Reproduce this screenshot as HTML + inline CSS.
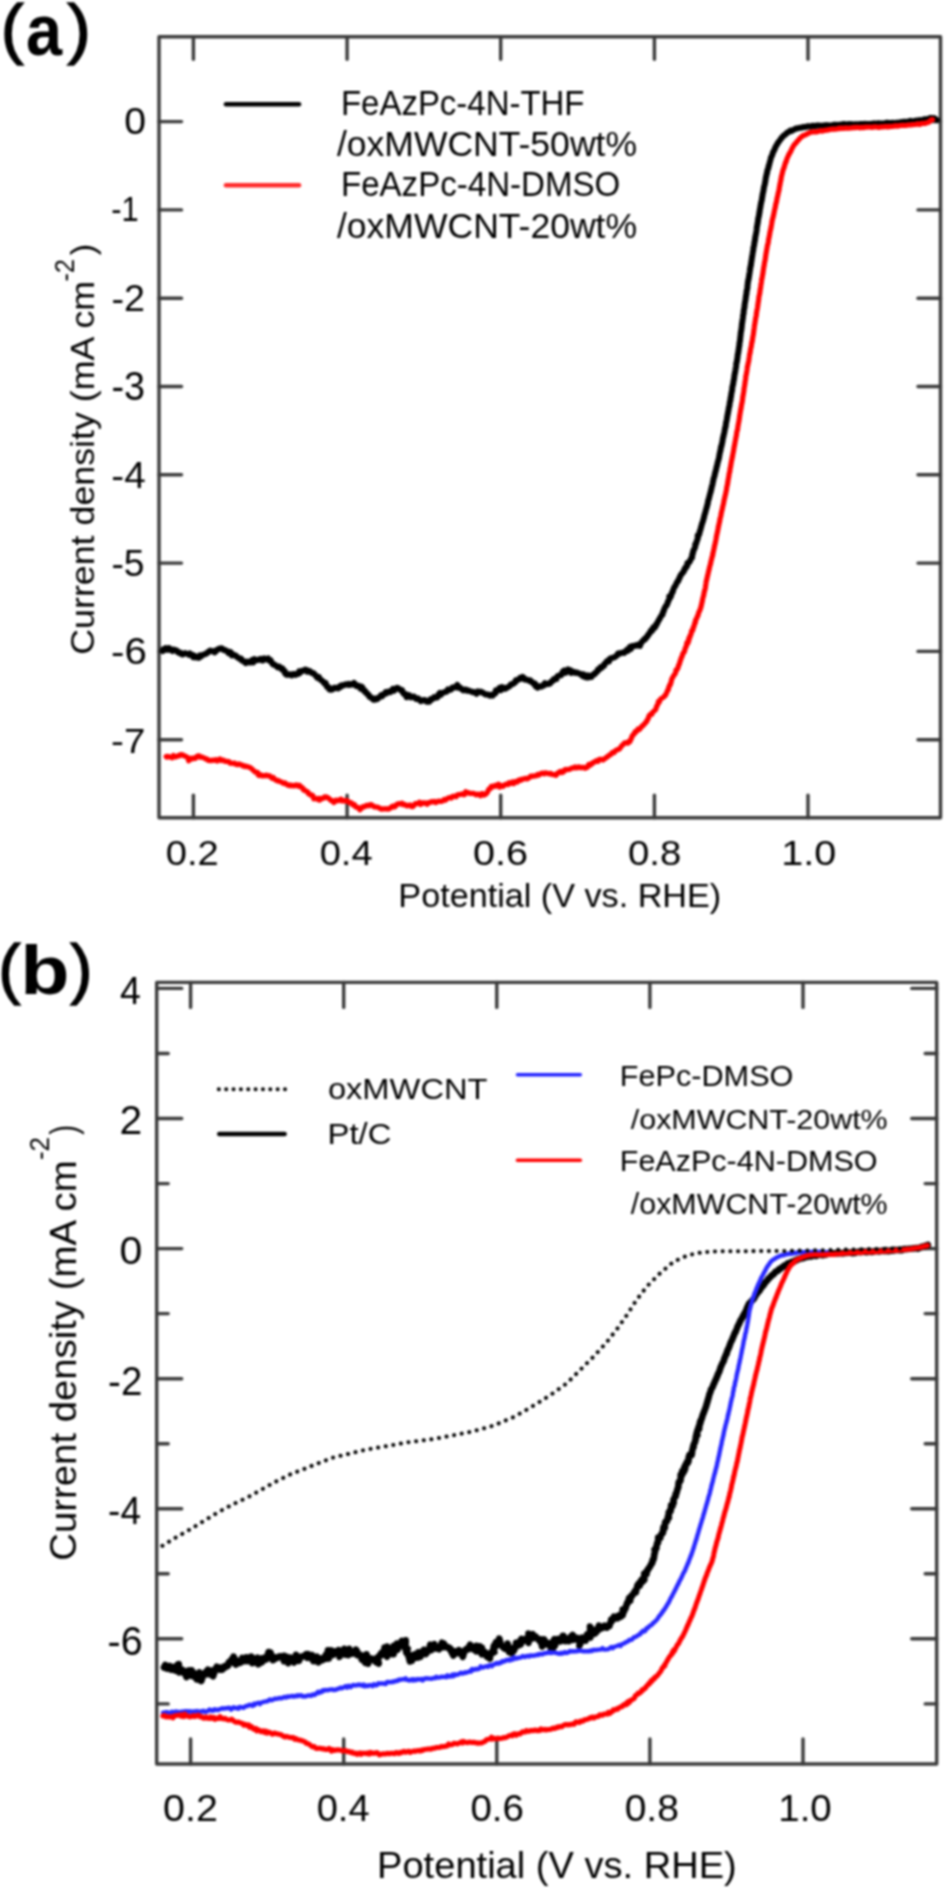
<!DOCTYPE html><html><head><meta charset="utf-8"><style>html,body{margin:0;padding:0;background:#fff;}svg{display:block;filter:blur(0.8px)}text{font-family:"Liberation Sans",sans-serif;fill:#1a1a1a}</style></head><body>
<svg width="945" height="1890" viewBox="0 0 945 1890">
<rect width="945" height="1890" fill="#fff"/>
<g stroke="#3a3a3a" stroke-width="3.4" fill="none" stroke-linecap="round" stroke-linejoin="round">
<rect x="159" y="36.7" width="781.5" height="781.0999999999999"/>
<line x1="193.4" y1="817.8" x2="193.4" y2="795.3"/>
<line x1="193.4" y1="36.7" x2="193.4" y2="59.2"/>
<line x1="347.1" y1="817.8" x2="347.1" y2="795.3"/>
<line x1="347.1" y1="36.7" x2="347.1" y2="59.2"/>
<line x1="500.7" y1="817.8" x2="500.7" y2="795.3"/>
<line x1="500.7" y1="36.7" x2="500.7" y2="59.2"/>
<line x1="654.4" y1="817.8" x2="654.4" y2="795.3"/>
<line x1="654.4" y1="36.7" x2="654.4" y2="59.2"/>
<line x1="808.0" y1="817.8" x2="808.0" y2="795.3"/>
<line x1="808.0" y1="36.7" x2="808.0" y2="59.2"/>
<line x1="159" y1="121.6" x2="181.5" y2="121.6"/>
<line x1="940.5" y1="121.6" x2="918.0" y2="121.6"/>
<line x1="159" y1="209.9" x2="181.5" y2="209.9"/>
<line x1="940.5" y1="209.9" x2="918.0" y2="209.9"/>
<line x1="159" y1="298.2" x2="181.5" y2="298.2"/>
<line x1="940.5" y1="298.2" x2="918.0" y2="298.2"/>
<line x1="159" y1="386.5" x2="181.5" y2="386.5"/>
<line x1="940.5" y1="386.5" x2="918.0" y2="386.5"/>
<line x1="159" y1="474.8" x2="181.5" y2="474.8"/>
<line x1="940.5" y1="474.8" x2="918.0" y2="474.8"/>
<line x1="159" y1="563.1" x2="181.5" y2="563.1"/>
<line x1="940.5" y1="563.1" x2="918.0" y2="563.1"/>
<line x1="159" y1="651.4" x2="181.5" y2="651.4"/>
<line x1="940.5" y1="651.4" x2="918.0" y2="651.4"/>
<line x1="159" y1="739.7" x2="181.5" y2="739.7"/>
<line x1="940.5" y1="739.7" x2="918.0" y2="739.7"/>
</g>
<g stroke="#3a3a3a" stroke-width="3.4" fill="none" stroke-linecap="round" stroke-linejoin="round">
<rect x="156.7" y="982.4" width="780.0" height="781.6"/>
<line x1="190.6" y1="1764" x2="190.6" y2="1739"/>
<line x1="190.6" y1="982.4" x2="190.6" y2="1007.4"/>
<line x1="343.7" y1="1764" x2="343.7" y2="1739"/>
<line x1="343.7" y1="982.4" x2="343.7" y2="1007.4"/>
<line x1="496.8" y1="1764" x2="496.8" y2="1739"/>
<line x1="496.8" y1="982.4" x2="496.8" y2="1007.4"/>
<line x1="649.9" y1="1764" x2="649.9" y2="1739"/>
<line x1="649.9" y1="982.4" x2="649.9" y2="1007.4"/>
<line x1="803.0" y1="1764" x2="803.0" y2="1739"/>
<line x1="803.0" y1="982.4" x2="803.0" y2="1007.4"/>
<line x1="156.7" y1="988.4" x2="181.7" y2="988.4"/>
<line x1="936.7" y1="988.4" x2="911.7" y2="988.4"/>
<line x1="156.7" y1="1053.5" x2="168.2" y2="1053.5"/>
<line x1="936.7" y1="1053.5" x2="925.2" y2="1053.5"/>
<line x1="156.7" y1="1118.5" x2="181.7" y2="1118.5"/>
<line x1="936.7" y1="1118.5" x2="911.7" y2="1118.5"/>
<line x1="156.7" y1="1183.6" x2="168.2" y2="1183.6"/>
<line x1="936.7" y1="1183.6" x2="925.2" y2="1183.6"/>
<line x1="156.7" y1="1248.6" x2="181.7" y2="1248.6"/>
<line x1="936.7" y1="1248.6" x2="911.7" y2="1248.6"/>
<line x1="156.7" y1="1313.6" x2="168.2" y2="1313.6"/>
<line x1="936.7" y1="1313.6" x2="925.2" y2="1313.6"/>
<line x1="156.7" y1="1378.7" x2="181.7" y2="1378.7"/>
<line x1="936.7" y1="1378.7" x2="911.7" y2="1378.7"/>
<line x1="156.7" y1="1443.7" x2="168.2" y2="1443.7"/>
<line x1="936.7" y1="1443.7" x2="925.2" y2="1443.7"/>
<line x1="156.7" y1="1508.8" x2="181.7" y2="1508.8"/>
<line x1="936.7" y1="1508.8" x2="911.7" y2="1508.8"/>
<line x1="156.7" y1="1573.8" x2="168.2" y2="1573.8"/>
<line x1="936.7" y1="1573.8" x2="925.2" y2="1573.8"/>
<line x1="156.7" y1="1638.8" x2="181.7" y2="1638.8"/>
<line x1="936.7" y1="1638.8" x2="911.7" y2="1638.8"/>
<line x1="156.7" y1="1703.9" x2="168.2" y2="1703.9"/>
<line x1="936.7" y1="1703.9" x2="925.2" y2="1703.9"/>
</g>
<text transform="translate(0.87,50.75) scale(0.6885,0.6691)" font-size="100" font-weight="normal" style="fill:#000" stroke="#000" stroke-width="1.94">(</text>
<text transform="translate(25.95,54.58) scale(0.6491,0.7182)" font-size="100" font-weight="bold" style="fill:#000">a</text>
<text transform="translate(67.19,50.75) scale(0.7115,0.6691)" font-size="100" font-weight="normal" style="fill:#000" stroke="#000" stroke-width="1.94">)</text>
<text transform="translate(-1.72,991.30) scale(0.6692,0.6713)" font-size="100" font-weight="normal" style="fill:#000" stroke="#000" stroke-width="1.94">(</text>
<text transform="translate(20.36,994.21) scale(0.8060,0.6878)" font-size="100" font-weight="bold" style="fill:#000">b</text>
<text transform="translate(70.23,991.30) scale(0.6692,0.6713)" font-size="100" font-weight="normal" style="fill:#000" stroke="#000" stroke-width="1.94">)</text>
<text transform="translate(124.23,134.23) scale(0.3917,0.3690)" font-size="100" font-weight="normal" style="fill:#000">0</text>
<text transform="translate(111.27,221.30) scale(0.3088,0.3478)" font-size="100" font-weight="normal" style="fill:#000">-1</text>
<text transform="translate(111.39,311.10) scale(0.3775,0.3743)" font-size="100" font-weight="normal" style="fill:#000">-2</text>
<text transform="translate(111.39,400.00) scale(0.3775,0.3972)" font-size="100" font-weight="normal" style="fill:#000">-3</text>
<text transform="translate(111.35,487.50) scale(0.3866,0.3686)" font-size="100" font-weight="normal" style="fill:#000">-4</text>
<text transform="translate(111.41,576.03) scale(0.3728,0.3743)" font-size="100" font-weight="normal" style="fill:#000">-5</text>
<text transform="translate(110.99,664.13) scale(0.4025,0.3704)" font-size="100" font-weight="normal" style="fill:#000">-6</text>
<text transform="translate(111.06,752.60) scale(0.3850,0.3571)" font-size="100" font-weight="normal" style="fill:#000">-7</text>
<text transform="translate(165.77,865.34) scale(0.3815,0.3592)" font-size="100" font-weight="normal" style="fill:#000">0.2</text>
<text transform="translate(319.68,865.34) scale(0.3811,0.3592)" font-size="100" font-weight="normal" style="fill:#000">0.4</text>
<text transform="translate(472.92,865.34) scale(0.3962,0.3592)" font-size="100" font-weight="normal" style="fill:#000">0.6</text>
<text transform="translate(627.97,865.34) scale(0.3832,0.3592)" font-size="100" font-weight="normal" style="fill:#000">0.8</text>
<text transform="translate(781.24,865.34) scale(0.3953,0.3592)" font-size="100" font-weight="normal" style="fill:#000">1.0</text>
<text transform="translate(398.36,906.54) scale(0.3419,0.3362)" font-size="100" font-weight="normal" style="fill:#000">Potential (V vs. RHE)</text>
<text transform="translate(93.79,654.79) rotate(-90) scale(0.3580,0.3340)" font-size="100" font-weight="normal" style="fill:#000">Current density (mA cm</text>
<text transform="translate(74.10,281.40) rotate(-90) scale(0.2500,0.2729)" font-size="100" font-weight="normal" style="fill:#000">-2</text>
<text transform="translate(93.79,255.35) rotate(-90) scale(0.3462,0.3340)" font-size="100" font-weight="normal" style="fill:#000">)</text>
<text transform="translate(340.96,115.05) scale(0.3298,0.3479)" font-size="100" font-weight="normal" style="fill:#000">FeAzPc-4N-THF</text>
<text transform="translate(336.90,156.44) scale(0.3555,0.3554)" font-size="100" font-weight="normal" style="fill:#000">/oxMWCNT-50wt%</text>
<text transform="translate(340.95,196.25) scale(0.3309,0.3465)" font-size="100" font-weight="normal" style="fill:#000">FeAzPc-4N-DMSO</text>
<text transform="translate(336.90,237.76) scale(0.3555,0.3446)" font-size="100" font-weight="normal" style="fill:#000">/oxMWCNT-20wt%</text>
<text transform="translate(120.05,1003.70) scale(0.3745,0.3814)" font-size="100" font-weight="normal" style="fill:#000">4</text>
<text transform="translate(119.56,1134.20) scale(0.4087,0.3986)" font-size="100" font-weight="normal" style="fill:#000">2</text>
<text transform="translate(119.46,1264.22) scale(0.4104,0.3789)" font-size="100" font-weight="normal" style="fill:#000">0</text>
<text transform="translate(108.06,1395.40) scale(0.3850,0.4143)" font-size="100" font-weight="normal" style="fill:#000">-2</text>
<text transform="translate(108.12,1524.00) scale(0.3695,0.3943)" font-size="100" font-weight="normal" style="fill:#000">-4</text>
<text transform="translate(107.62,1655.49) scale(0.3938,0.4085)" font-size="100" font-weight="normal" style="fill:#000">-6</text>
<text transform="translate(163.02,1820.92) scale(0.3946,0.3761)" font-size="100" font-weight="normal" style="fill:#000">0.2</text>
<text transform="translate(316.68,1820.92) scale(0.3803,0.3761)" font-size="100" font-weight="normal" style="fill:#000">0.4</text>
<text transform="translate(470.46,1820.92) scale(0.3847,0.3761)" font-size="100" font-weight="normal" style="fill:#000">0.6</text>
<text transform="translate(624.64,1820.92) scale(0.3901,0.3761)" font-size="100" font-weight="normal" style="fill:#000">0.8</text>
<text transform="translate(778.33,1820.92) scale(0.3843,0.3761)" font-size="100" font-weight="normal" style="fill:#000">1.0</text>
<text transform="translate(377.05,1878.48) scale(0.3808,0.3628)" font-size="100" font-weight="normal" style="fill:#000">Potential (V vs. RHE)</text>
<text transform="translate(75.74,1560.72) rotate(-90) scale(0.3834,0.3745)" font-size="100" font-weight="normal" style="fill:#000">Current density (mA cm</text>
<text transform="translate(49.40,1160.04) rotate(-90) scale(0.2600,0.2686)" font-size="100" font-weight="normal" style="fill:#000">-2</text>
<text transform="translate(75.74,1134.70) rotate(-90) scale(0.2962,0.3745)" font-size="100" font-weight="normal" style="fill:#000">)</text>
<text transform="translate(327.89,1099.30) scale(0.3267,0.3042)" font-size="100" font-weight="normal" style="fill:#000">oxMWCNT</text>
<text transform="translate(327.47,1143.61) scale(0.3286,0.2878)" font-size="100" font-weight="normal" style="fill:#000">Pt/C</text>
<text transform="translate(619.75,1085.80) scale(0.3067,0.2958)" font-size="100" font-weight="normal" style="fill:#000">FePc-DMSO</text>
<text transform="translate(630.80,1128.72) scale(0.3043,0.2838)" font-size="100" font-weight="normal" style="fill:#000">/oxMWCNT-20wt%</text>
<text transform="translate(619.76,1170.80) scale(0.3053,0.2958)" font-size="100" font-weight="normal" style="fill:#000">FeAzPc-4N-DMSO</text>
<text transform="translate(630.80,1214.31) scale(0.3043,0.2919)" font-size="100" font-weight="normal" style="fill:#000">/oxMWCNT-20wt%</text>
<line x1="226" y1="104.3" x2="299" y2="104.3" stroke="#000" stroke-width="4.6" stroke-linecap="round"/>
<line x1="226" y1="185.3" x2="299" y2="185.3" stroke="#ff2a2a" stroke-width="4.6" stroke-linecap="round"/>
<line x1="218.8" y1="1089.2" x2="286.5" y2="1089.2" stroke="#000" stroke-width="3.9" stroke-dasharray="0.1 7.25" stroke-linecap="round"/>
<line x1="219.3" y1="1134" x2="284.6" y2="1134" stroke="#000" stroke-width="4.6" stroke-linecap="round"/>
<line x1="517.5" y1="1074.8" x2="580.3" y2="1074.8" stroke="#2424ff" stroke-width="3.5" stroke-linecap="round"/>
<line x1="517.5" y1="1160.2" x2="580.3" y2="1160.2" stroke="#ff0000" stroke-width="3.6" stroke-linecap="round"/>
<path d="M162.7,651.1 L163.3,649.3 L164.3,649.5 L165.6,648.1 L167.2,648.9 L168.6,648.0 L169.9,648.7 L170.9,649.4 L172.6,651.0 L174.0,649.6 L175.5,650.3 L176.7,650.5 L177.7,652.2 L179.0,652.3 L179.8,653.2 L181.3,653.9 L182.5,654.4 L183.8,653.9 L185.2,653.1 L186.2,653.6 L188.0,653.9 L188.9,654.7 L189.9,653.5 L191.3,654.8 L192.3,654.8 L193.2,657.1 L194.6,655.9 L195.1,657.2 L196.7,657.5 L197.8,656.6 L199.0,657.7 L199.9,655.4 L201.1,656.4 L202.0,655.3 L203.3,654.7 L204.5,654.2 L206.0,653.9 L207.0,652.9 L207.7,652.7 L208.3,651.9 L210.1,650.6 L211.3,651.0 L211.9,651.3 L213.4,651.1 L214.7,652.4 L215.9,651.3 L217.1,649.6 L218.3,649.4 L219.1,648.6 L219.8,648.5 L221.4,648.9 L221.9,648.4 L222.9,649.1 L224.1,650.2 L225.0,650.1 L226.1,650.5 L227.5,651.7 L228.6,653.1 L229.8,651.9 L230.8,652.3 L231.9,655.4 L233.1,654.4 L234.4,655.3 L235.6,655.4 L237.0,657.1 L237.9,657.4 L239.2,658.6 L240.2,659.1 L241.1,658.6 L242.1,660.8 L243.5,660.9 L244.2,661.7 L245.7,663.1 L246.3,662.4 L247.2,661.6 L248.7,662.1 L250.0,662.6 L251.1,662.2 L252.0,660.0 L253.3,662.3 L254.4,659.2 L255.5,660.6 L256.4,659.9 L257.8,660.0 L259.3,659.3 L260.8,658.8 L261.6,660.4 L262.8,660.6 L264.2,658.4 L265.5,659.3 L266.8,659.3 L268.1,658.4 L268.9,660.5 L270.5,660.1 L271.2,661.5 L272.2,663.5 L273.6,664.8 L274.5,664.6 L276.0,665.7 L276.8,666.4 L277.8,667.4 L279.2,666.7 L280.2,668.0 L281.5,668.1 L281.9,669.5 L282.7,668.8 L283.9,670.6 L284.8,671.1 L284.8,672.9 L286.2,674.7 L287.2,674.6 L288.2,674.7 L289.2,674.2 L290.5,674.5 L291.6,675.4 L293.2,674.0 L294.6,674.1 L295.6,674.9 L296.7,673.9 L298.2,673.9 L299.1,671.4 L300.0,672.9 L301.4,670.9 L302.4,670.7 L303.9,670.7 L305.2,669.6 L306.4,669.9 L307.4,671.7 L308.7,670.8 L309.9,671.1 L311.4,672.9 L312.4,672.7 L313.6,673.2 L314.6,674.3 L315.7,675.9 L317.1,676.4 L317.3,677.7 L318.9,677.0 L319.7,679.1 L320.9,679.9 L321.6,680.3 L322.7,681.2 L323.3,681.8 L324.3,683.4 L325.7,683.1 L326.2,685.0 L327.0,686.9 L328.0,686.8 L328.5,686.9 L329.5,689.6 L330.5,689.7 L331.9,689.5 L333.3,688.8 L334.2,687.7 L335.9,687.8 L337.0,688.2 L338.1,688.4 L339.7,686.3 L340.6,687.0 L341.7,685.3 L343.2,685.5 L344.4,685.1 L345.6,684.3 L347.1,684.5 L348.0,685.0 L348.9,683.9 L350.6,684.8 L351.7,684.1 L353.0,684.5 L354.1,683.0 L355.3,684.7 L356.6,686.1 L357.8,685.5 L358.9,685.9 L359.9,686.6 L360.6,688.7 L361.8,686.7 L362.7,688.1 L363.3,689.5 L364.1,691.0 L365.0,690.7 L365.9,692.9 L367.1,693.2 L367.4,694.2 L368.7,694.7 L369.4,696.7 L370.5,697.4 L371.4,697.5 L372.5,698.8 L373.5,699.7 L374.8,699.8 L376.0,698.4 L376.8,699.2 L378.2,698.2 L379.1,697.4 L380.2,696.3 L381.2,695.1 L382.3,696.2 L383.1,694.7 L384.0,694.3 L385.7,692.2 L386.3,693.5 L387.7,692.0 L388.5,691.4 L390.5,692.1 L391.8,690.3 L392.8,689.0 L394.1,690.6 L395.7,688.5 L397.3,687.8 L398.6,688.5 L399.6,689.2 L400.6,690.2 L401.4,689.9 L402.1,690.1 L403.0,692.8 L404.1,694.1 L405.4,694.6 L405.8,694.1 L406.6,697.3 L407.9,696.1 L409.0,695.1 L410.0,695.7 L410.9,697.4 L412.8,696.9 L413.8,696.5 L415.1,698.1 L416.4,699.0 L417.4,698.3 L418.2,698.5 L419.7,699.9 L420.7,701.1 L422.0,700.3 L423.0,700.6 L424.1,700.0 L425.7,700.4 L426.8,701.7 L428.1,701.8 L429.4,701.8 L430.7,699.0 L432.0,699.5 L432.5,699.0 L434.1,697.2 L435.2,697.8 L436.7,697.6 L437.8,696.9 L438.2,694.9 L439.9,692.9 L441.1,694.7 L441.9,693.2 L443.0,692.8 L444.4,692.2 L445.3,691.8 L446.6,691.7 L447.9,689.4 L448.7,690.0 L450.1,689.8 L451.6,689.0 L452.2,687.6 L453.9,687.2 L455.2,687.4 L456.2,686.4 L457.3,684.9 L458.5,687.7 L459.7,687.3 L461.1,688.6 L462.2,689.6 L463.3,690.4 L464.6,689.5 L466.5,689.7 L467.1,690.8 L468.5,690.4 L469.9,691.1 L471.1,691.4 L472.9,692.2 L474.1,692.1 L475.3,692.5 L476.4,693.7 L477.8,691.5 L479.1,692.4 L480.6,691.5 L481.7,692.2 L482.5,692.4 L483.8,693.5 L484.9,693.8 L485.5,694.5 L487.1,694.4 L488.3,694.4 L489.8,695.7 L491.2,694.8 L492.7,695.6 L493.3,694.4 L494.1,693.7 L495.3,693.6 L495.8,690.4 L496.6,691.5 L497.4,690.4 L498.5,689.9 L499.5,688.0 L500.8,690.1 L501.9,687.0 L503.8,688.6 L504.5,687.9 L505.6,688.7 L507.2,687.5 L508.1,687.0 L509.4,686.4 L510.4,685.1 L510.9,684.5 L511.9,684.0 L513.2,684.0 L513.7,683.2 L514.9,682.6 L515.8,680.2 L517.1,680.6 L518.0,679.6 L519.2,679.3 L520.0,677.8 L521.5,678.4 L522.5,676.8 L524.0,677.9 L524.6,679.6 L526.2,679.7 L527.2,679.8 L528.0,679.9 L529.3,680.9 L530.3,680.4 L531.1,681.7 L532.1,682.1 L532.7,682.6 L534.1,684.2 L535.1,683.7 L535.8,686.4 L536.5,685.7 L537.5,687.7 L539.0,686.4 L540.1,686.3 L541.4,686.7 L542.5,685.6 L543.7,685.5 L544.9,683.2 L546.1,684.2 L547.4,683.7 L548.7,684.0 L550.0,683.5 L551.0,682.0 L552.1,680.9 L553.2,680.7 L553.8,679.0 L555.0,679.0 L556.5,679.1 L556.8,677.2 L557.7,676.0 L558.8,675.6 L559.8,675.4 L561.1,675.3 L561.8,673.6 L563.1,671.3 L564.3,670.5 L565.5,672.9 L566.9,671.8 L568.1,669.4 L569.2,670.8 L570.5,670.3 L571.3,672.8 L573.2,671.8 L574.1,672.0 L575.2,672.9 L576.8,672.5 L577.8,673.0 L579.1,673.3 L580.4,674.2 L581.2,674.0 L582.6,676.0 L583.7,674.3 L584.6,676.7 L585.8,677.3 L586.8,677.4 L588.1,675.5 L589.0,677.4 L590.0,676.9 L591.5,677.0 L592.2,675.4 L592.4,675.1 L593.8,674.0 L594.7,674.2 L595.3,672.7 L596.1,672.6 L597.5,671.3 L597.8,669.6 L598.7,669.8 L599.5,669.3 L600.3,667.4 L601.8,667.8 L602.5,666.3 L604.2,665.7 L604.2,664.2 L606.2,662.4 L607.0,660.9 L608.2,661.0 L609.1,661.4 L609.5,658.9 L611.3,658.1 L612.4,657.8 L613.9,657.3 L614.6,657.3 L616.2,655.9 L617.1,655.4 L618.1,653.4 L619.4,653.2 L620.2,653.5 L621.8,652.8 L622.7,652.5 L624.2,652.9 L624.9,651.4 L626.0,651.4 L627.0,649.6 L627.9,650.8 L628.9,648.8 L629.9,647.0 L630.9,648.8 L632.0,646.0 L633.9,646.0 L635.0,645.5 L636.7,645.8 L637.6,644.8 L639.0,645.6 L640.0,645.9 L640.8,642.9 L641.5,642.7 L642.8,640.7 L643.3,640.5 L644.4,639.0 L645.1,639.3 L645.9,637.7 L646.9,637.2 L647.9,635.1 L648.7,634.8 L649.0,633.6 L649.8,632.8 L651.0,630.4 L651.3,631.5 L652.3,630.5 L652.8,628.9 L653.3,627.3 L654.8,627.8 L655.7,625.9 L655.9,624.6 L656.4,624.8 L657.7,622.2 L658.4,620.8 L658.7,620.2 L658.8,619.9 L659.5,619.4 L660.1,617.6 L660.8,616.6 L661.3,616.0 L662.1,614.4 L662.5,614.7 L663.0,611.9 L663.8,611.2 L663.9,610.0 L664.6,608.3 L665.3,607.1 L665.7,606.0 L666.6,605.5 L666.9,604.8 L667.4,603.4 L667.9,602.5 L667.8,601.5 L668.5,600.8 L669.4,598.8 L669.3,596.4 L670.1,596.5 L670.6,597.1 L671.5,594.5 L671.7,593.2 L672.3,592.0 L672.9,591.7 L673.1,590.0 L674.2,587.5 L674.5,586.8 L674.9,586.4 L675.7,585.3 L676.5,583.2 L677.1,582.0 L677.3,582.1 L678.4,580.8 L678.5,579.7 L679.7,577.8 L679.8,576.8 L680.7,575.5 L681.5,573.9 L682.1,573.5 L683.0,572.4 L683.9,570.5 L684.0,571.2 L684.3,569.7 L685.3,567.7 L685.8,568.2 L686.4,566.2 L687.3,565.8 L687.4,562.9 L688.2,562.7 L689.2,562.4 L689.6,561.8 L690.3,560.2 L690.8,559.2 L691.3,558.3 L692.1,557.6 L692.2,554.3 L692.9,554.0 L693.0,551.6 L693.6,549.9 L693.7,550.8 L694.1,549.2 L694.7,548.1 L695.2,547.0 L695.2,544.5 L695.6,543.8 L696.1,543.9 L696.6,541.4 L696.9,540.8 L697.1,540.5 L697.7,538.7 L697.7,535.5 L698.2,537.0 L698.6,535.0 L699.0,534.2 L699.4,533.9 L699.7,531.4 L700.2,530.6 L700.5,529.4 L700.8,528.2 L701.2,526.9 L701.4,526.1 L701.8,524.5 L702.2,523.3 L702.5,522.3 L703.0,521.1 L703.3,519.6 L703.7,518.5 L704.0,517.3 L704.3,515.9 L704.5,514.9 L704.9,513.7 L705.4,512.3 L705.6,511.2 L705.9,510.0 L706.3,509.0 L706.6,507.4 L707.0,506.6 L707.2,505.0 L707.7,503.9 L707.9,502.2 L708.1,501.1 L708.5,499.6 L708.9,498.8 L709.1,497.4 L709.5,496.2 L709.8,494.9 L710.2,493.3 L710.3,493.0 L710.8,491.7 L710.9,490.2 L711.4,489.0 L711.6,487.9 L711.9,485.9 L712.4,485.0 L712.6,483.6 L712.7,482.7 L713.2,481.1 L713.4,479.7 L713.5,479.0 L713.9,477.7 L714.4,476.3 L714.7,475.1 L714.9,473.8 L715.3,472.6 L715.5,471.2 L715.8,470.7 L716.3,468.6 L716.5,467.1 L716.8,466.7 L717.1,465.3 L717.4,463.9 L717.8,462.0 L718.0,461.7 L718.3,460.3 L718.8,458.7 L719.0,457.6 L719.2,456.4 L719.5,454.8 L719.7,453.4 L720.0,452.5 L720.2,450.8 L720.6,450.3 L720.7,448.8 L721.0,446.8 L721.5,446.3 L721.5,445.3 L721.9,444.1 L722.2,442.6 L722.5,441.2 L722.7,439.7 L722.8,438.8 L723.2,437.1 L723.5,436.5 L723.6,434.9 L724.1,433.5 L724.3,432.7 L724.5,431.3 L724.8,430.1 L725.0,428.4 L725.3,427.3 L725.6,426.8 L725.8,424.5 L726.0,423.8 L726.1,422.2 L726.5,421.1 L726.7,420.0 L727.0,418.1 L727.2,417.3 L727.3,416.4 L727.6,414.4 L727.9,413.7 L728.0,412.3 L728.2,411.4 L728.6,409.8 L728.7,408.4 L728.9,407.2 L729.2,406.7 L729.5,405.2 L729.6,404.0 L729.8,402.3 L730.1,401.2 L730.5,400.0 L730.5,398.9 L730.6,397.7 L731.1,396.2 L731.1,395.3 L731.3,393.8 L731.6,392.6 L731.8,391.4 L732.1,390.4 L732.2,388.9 L732.3,387.3 L732.7,385.9 L732.9,384.8 L733.2,383.9 L733.3,382.7 L733.5,381.3 L733.8,380.1 L734.0,379.2 L734.2,377.5 L734.3,376.5 L734.5,374.9 L734.8,373.9 L735.0,372.4 L735.3,371.2 L735.5,369.8 L735.6,368.4 L735.9,367.7 L736.1,366.3 L736.2,365.1 L736.3,363.1 L736.6,362.9 L736.9,361.6 L737.0,360.3 L737.3,359.0 L737.4,357.8 L737.6,356.7 L737.7,354.8 L738.0,353.6 L738.3,352.7 L738.3,351.7 L738.6,349.9 L738.8,349.0 L738.9,347.4 L739.1,346.5 L739.4,345.4 L739.4,343.3 L739.5,342.9 L739.9,341.5 L740.0,340.0 L740.2,338.9 L740.3,337.3 L740.4,336.3 L740.6,335.4 L740.7,333.3 L740.8,332.5 L741.2,331.2 L741.2,330.1 L741.5,329.0 L741.6,327.7 L741.7,326.3 L741.9,325.5 L741.9,323.6 L742.3,322.4 L742.4,321.2 L742.5,320.1 L742.8,318.7 L742.9,317.8 L743.0,316.2 L743.1,315.4 L743.5,313.7 L743.7,312.7 L743.6,311.4 L743.9,310.1 L744.1,308.6 L744.4,307.6 L744.6,306.2 L744.5,305.5 L744.9,303.3 L745.0,302.3 L745.3,301.1 L745.5,299.9 L745.7,298.6 L745.7,297.6 L746.0,296.4 L746.1,294.7 L746.4,294.2 L746.6,292.1 L746.5,291.7 L747.0,289.7 L747.2,289.0 L747.5,287.5 L747.4,286.5 L747.6,284.9 L747.8,283.6 L747.9,282.1 L748.1,281.3 L748.4,280.0 L748.6,278.9 L748.8,278.0 L749.0,276.3 L749.2,275.3 L749.5,273.0 L749.7,272.2 L749.8,271.3 L749.9,269.7 L750.2,269.4 L750.3,267.4 L750.6,266.2 L750.9,265.5 L751.0,263.9 L751.2,262.9 L751.4,261.4 L751.6,260.3 L751.8,258.5 L752.1,257.0 L752.2,256.2 L752.3,255.5 L752.6,253.6 L752.7,252.6 L753.0,251.2 L753.2,250.4 L753.4,248.7 L753.5,247.3 L753.9,246.1 L754.1,245.0 L754.3,243.8 L754.4,242.4 L754.7,241.4 L755.0,240.2 L755.0,239.3 L755.3,237.3 L755.5,236.2 L755.7,235.0 L755.9,234.1 L756.2,232.5 L756.4,231.5 L756.6,230.1 L756.7,228.9 L756.8,227.5 L757.0,226.5 L757.3,225.1 L757.5,223.6 L757.8,222.4 L757.9,221.3 L758.1,220.0 L758.2,218.5 L758.6,217.4 L758.8,216.0 L759.1,215.1 L759.2,213.3 L759.6,212.4 L759.6,211.1 L759.8,210.0 L760.1,208.5 L760.4,207.3 L760.4,206.3 L760.8,204.7 L760.9,203.6 L761.2,202.4 L761.4,201.6 L761.8,200.1 L762.0,198.6 L762.0,197.6 L762.5,196.1 L762.5,194.8 L762.7,193.9 L763.0,192.8 L763.4,191.3 L763.5,189.8 L763.8,188.8 L763.9,187.4 L764.2,186.3 L764.5,185.3 L764.8,184.1 L765.0,183.2 L765.2,181.7 L765.4,181.2 L765.6,179.2 L765.8,177.9 L766.0,176.9 L766.3,176.1 L766.5,174.6 L766.8,173.4 L767.1,172.9 L767.3,170.9 L767.6,169.8 L767.9,168.9 L768.4,168.2 L768.6,165.9 L769.1,165.3 L769.2,164.4 L769.6,162.9 L769.8,162.0 L770.3,160.4 L770.5,159.7 L770.8,158.2 L771.2,157.0 L771.8,155.9 L772.3,154.9 L772.6,153.5 L773.2,151.9 L773.8,151.1 L774.2,150.1 L774.8,149.0 L775.2,147.6 L776.0,146.1 L776.4,145.3 L777.2,144.3 L777.8,143.0 L778.6,142.1 L779.3,141.0 L780.1,140.0 L780.8,139.1 L781.5,137.8 L782.4,137.1 L783.3,136.0 L784.1,135.2 L785.1,134.8 L786.2,133.8 L787.0,132.7 L788.1,132.4 L789.1,131.6 L790.2,130.6 L791.4,131.0 L792.5,130.2 L793.7,129.9 L794.8,129.1 L796.0,128.5 L797.2,128.6 L798.3,128.1 L799.6,127.8 L800.7,127.8 L801.8,127.6 L803.1,127.1 L804.3,127.1 L805.6,127.0 L807.0,126.4 L808.1,126.2 L809.5,126.5 L810.9,126.7 L812.3,125.7 L813.5,126.0 L814.9,126.1 L816.1,125.7 L817.5,125.5 L818.6,125.5 L819.8,125.8 L821.1,125.8 L822.4,125.6 L823.7,125.8 L825.0,125.2 L826.2,125.6 L827.4,125.2 L828.8,125.4 L830.0,125.6 L831.3,125.6 L832.5,125.3 L833.7,124.8 L835.2,124.7 L836.3,124.8 L837.6,125.1 L839.0,124.7 L840.2,124.9 L841.5,124.5 L842.8,124.2 L844.0,124.1 L845.2,124.2 L846.6,124.8 L847.7,124.4 L848.8,123.9 L850.1,124.5 L851.4,124.1 L852.5,124.4 L854.0,124.4 L855.1,124.2 L856.3,124.3 L857.4,124.5 L858.8,124.3 L860.0,124.4 L861.3,123.9 L862.5,123.9 L863.5,124.2 L864.7,123.8 L865.9,123.9 L867.2,123.9 L868.4,124.3 L869.6,124.0 L870.8,124.0 L872.1,123.8 L873.1,123.5 L874.4,123.6 L875.6,123.5 L876.7,123.9 L878.1,123.3 L879.2,123.5 L880.4,123.7 L881.6,123.4 L882.7,123.6 L884.0,123.4 L885.1,123.6 L886.2,122.8 L887.5,122.8 L888.7,122.9 L890.0,123.0 L891.3,123.1 L892.4,122.8 L893.6,123.0 L894.7,123.2 L896.0,122.9 L897.0,122.6 L898.4,122.8 L899.7,122.5 L900.8,122.2 L901.9,122.5 L903.1,121.9 L904.3,121.7 L905.6,122.1 L906.7,121.9 L907.9,121.4 L909.1,121.7 L910.5,120.8 L911.6,121.7 L912.8,121.6 L914.1,121.1 L915.1,120.8 L916.6,120.6 L917.6,120.5 L919.0,120.5 L920.0,120.1 L921.4,120.4 L922.6,120.1 L923.8,119.5 L924.9,119.3 L926.2,119.5 L927.4,119.0 L928.7,119.1 L930.0,118.0 L931.0,118.0 L932.5,118.3 L933.7,118.1 L934.8,118.6 L935.7,119.2 L936.7,120.0" fill="none" stroke="#000" stroke-width="6.0" stroke-linejoin="round" stroke-linecap="round" />
<path d="M166.2,756.6 L166.6,757.1 L167.8,756.3 L168.7,756.8 L169.8,756.9 L171.1,757.4 L172.2,757.8 L173.5,755.6 L175.0,756.9 L175.9,756.8 L177.3,756.2 L178.3,755.7 L179.4,755.9 L180.6,754.5 L182.0,754.7 L183.0,755.2 L183.4,755.5 L185.0,756.2 L186.2,756.7 L186.9,756.9 L188.0,757.9 L188.7,760.8 L190.1,759.3 L191.2,758.2 L192.1,758.9 L193.0,758.4 L194.2,757.8 L195.4,758.4 L196.9,756.6 L197.5,756.1 L199.0,755.8 L200.2,757.2 L201.3,756.8 L202.7,757.4 L203.9,757.9 L205.2,758.4 L205.9,759.1 L207.2,759.0 L208.5,760.5 L209.3,760.5 L210.9,760.7 L212.3,760.0 L213.5,760.4 L214.7,760.2 L215.9,759.7 L217.3,761.0 L218.6,760.0 L219.8,759.0 L221.0,760.5 L221.9,760.0 L223.4,760.0 L224.5,761.1 L225.9,761.5 L227.0,761.3 L227.9,761.7 L229.0,761.7 L230.2,763.3 L231.2,763.0 L232.6,763.2 L233.9,763.6 L234.8,763.2 L236.4,764.5 L237.8,764.6 L238.9,763.8 L240.4,764.5 L241.5,764.7 L242.5,765.8 L243.7,765.5 L245.2,766.6 L246.3,766.3 L247.2,766.5 L248.5,767.1 L249.9,767.5 L250.7,767.9 L252.1,769.1 L252.9,770.0 L254.0,770.8 L255.1,772.0 L255.4,772.2 L257.5,772.4 L258.0,774.6 L259.0,775.5 L259.9,774.5 L261.3,775.1 L262.3,775.9 L263.8,775.6 L265.0,775.8 L266.3,775.2 L267.7,775.8 L268.8,776.1 L269.8,775.8 L270.9,777.2 L272.1,778.3 L273.3,777.5 L273.8,778.7 L274.9,779.1 L275.8,780.2 L277.0,780.7 L278.1,780.4 L278.8,781.3 L280.2,781.5 L281.6,782.2 L282.8,782.8 L283.8,783.4 L285.0,782.8 L286.2,784.0 L287.0,784.6 L288.5,785.3 L289.9,784.9 L290.7,785.8 L292.6,785.4 L293.7,785.9 L294.8,785.7 L296.3,784.8 L297.6,785.8 L299.0,786.5 L299.5,785.3 L300.8,787.1 L301.6,787.1 L302.6,788.0 L303.5,790.0 L304.6,789.8 L305.3,790.9 L306.8,791.4 L307.8,792.0 L308.5,793.7 L309.6,794.0 L310.6,795.2 L312.2,795.2 L313.1,796.1 L313.8,798.8 L315.4,798.5 L316.4,799.0 L317.8,798.5 L318.5,799.7 L319.6,800.1 L320.6,798.4 L321.6,798.8 L323.1,798.3 L324.4,796.9 L325.4,797.5 L326.2,796.8 L327.5,797.5 L328.3,798.0 L329.8,799.3 L330.4,799.9 L331.5,800.9 L332.3,800.7 L333.9,802.5 L334.7,801.9 L336.0,800.2 L337.3,800.6 L338.7,800.7 L339.8,799.6 L341.0,799.1 L342.2,801.0 L343.1,800.9 L344.7,800.6 L345.8,801.2 L346.6,800.5 L347.6,801.2 L349.4,802.8 L350.0,802.3 L351.5,802.9 L352.5,804.7 L353.4,804.3 L354.4,804.5 L355.6,806.9 L356.7,807.2 L357.5,807.4 L358.5,807.5 L359.9,809.8 L360.8,808.5 L361.6,808.3 L362.9,806.7 L363.9,806.8 L365.3,806.4 L366.4,805.3 L367.9,805.4 L369.0,805.8 L370.2,804.6 L371.2,804.6 L372.7,805.7 L374.0,806.8 L375.0,806.8 L376.7,807.1 L377.9,807.3 L378.8,807.6 L379.9,808.5 L381.4,809.2 L382.6,808.8 L384.1,808.9 L385.4,808.9 L386.4,808.7 L387.7,809.1 L388.9,809.0 L389.8,808.2 L390.6,807.7 L392.0,806.5 L392.9,807.0 L393.8,806.0 L394.9,806.7 L396.2,805.3 L396.9,804.4 L398.1,803.8 L399.2,803.7 L400.3,803.9 L402.0,803.2 L402.7,804.6 L404.3,804.3 L405.5,805.0 L406.8,805.9 L407.8,805.7 L409.2,805.1 L410.5,805.0 L411.3,806.5 L412.7,806.7 L414.3,805.0 L415.3,803.7 L416.7,803.7 L418.3,803.3 L419.3,802.3 L420.5,804.4 L421.7,802.8 L423.0,803.3 L424.5,802.8 L425.2,803.0 L427.0,804.2 L428.1,802.7 L429.3,803.0 L431.0,801.8 L431.9,801.6 L433.0,802.0 L434.5,801.4 L435.7,802.5 L437.1,801.9 L438.3,801.1 L439.6,801.3 L440.8,801.4 L442.1,801.1 L443.3,800.6 L444.3,799.4 L445.4,800.1 L446.9,799.0 L448.1,798.0 L449.2,797.8 L450.0,797.5 L451.4,798.1 L452.6,796.4 L454.1,796.4 L454.8,796.2 L456.1,796.7 L457.3,794.9 L458.2,794.6 L460.2,794.5 L460.9,794.4 L462.2,793.9 L463.9,794.8 L464.9,794.2 L465.7,791.7 L467.2,793.0 L468.4,792.7 L469.9,793.4 L471.1,793.5 L472.4,793.3 L474.1,793.6 L475.5,794.3 L476.5,794.8 L477.6,794.1 L478.9,794.3 L480.4,795.7 L481.6,793.8 L482.6,793.5 L484.1,795.1 L485.1,794.5 L486.1,793.9 L486.9,792.9 L487.4,792.3 L488.6,789.7 L489.0,788.9 L489.9,788.4 L490.9,788.3 L491.3,786.4 L492.2,786.4 L493.3,786.0 L494.4,786.4 L496.0,785.1 L497.1,786.0 L498.5,784.3 L499.8,787.1 L500.9,785.4 L502.5,786.3 L503.4,786.3 L504.3,785.1 L505.5,784.4 L506.7,784.0 L508.2,784.6 L509.2,782.8 L510.1,783.3 L511.3,783.3 L512.3,782.0 L513.7,783.5 L515.1,781.6 L515.7,781.5 L517.2,782.1 L518.3,780.2 L519.8,779.9 L520.7,780.3 L522.1,779.0 L523.4,779.1 L524.7,778.6 L526.1,778.4 L527.1,778.9 L528.2,778.3 L529.6,777.3 L530.8,776.1 L531.9,776.0 L532.9,776.3 L534.1,775.8 L535.5,776.0 L536.7,775.6 L537.7,774.4 L539.2,775.0 L540.4,773.8 L541.4,773.3 L543.1,773.0 L544.1,773.8 L545.5,772.8 L547.1,773.2 L548.1,773.6 L549.3,773.8 L550.7,773.3 L551.8,774.5 L553.3,774.6 L554.5,774.7 L555.9,775.3 L556.8,774.4 L557.6,773.0 L558.9,772.6 L560.2,771.4 L561.3,772.5 L562.7,771.2 L563.4,771.9 L564.6,769.9 L565.5,769.3 L566.7,769.9 L568.1,769.4 L569.3,769.4 L570.3,768.9 L571.9,768.0 L572.8,767.9 L574.3,768.0 L575.2,767.0 L577.1,767.9 L578.0,767.0 L579.2,766.8 L580.3,767.6 L581.4,767.8 L582.8,767.3 L583.9,767.3 L585.1,768.3 L586.0,767.8 L587.2,767.5 L587.8,766.1 L588.7,764.4 L590.1,765.3 L591.1,764.5 L591.7,763.4 L592.7,763.4 L593.4,762.2 L594.8,761.9 L596.3,760.7 L597.5,761.4 L598.1,761.5 L599.4,759.3 L601.0,759.3 L602.0,759.4 L603.0,760.0 L604.6,758.7 L605.7,758.2 L606.5,757.4 L607.1,756.7 L608.2,756.4 L609.3,755.0 L610.5,754.8 L611.5,753.6 L612.0,752.7 L613.1,752.3 L614.1,752.7 L615.4,750.6 L616.5,750.2 L617.5,749.6 L618.8,749.5 L620.0,748.3 L620.5,747.4 L621.4,746.3 L621.9,745.4 L622.5,745.2 L623.7,744.0 L624.4,743.1 L625.9,742.7 L626.8,742.8 L627.7,743.2 L629.1,741.2 L629.8,741.8 L630.4,740.4 L631.1,739.0 L631.7,737.7 L631.9,736.5 L632.4,735.8 L633.1,734.7 L633.9,734.4 L634.9,732.1 L635.4,731.5 L636.2,731.9 L637.5,730.0 L638.0,729.0 L639.3,729.6 L640.0,728.8 L641.0,727.4 L642.0,726.1 L642.8,725.9 L644.2,724.0 L644.8,723.7 L646.0,721.9 L646.8,721.6 L647.1,720.0 L647.5,719.6 L648.6,717.8 L648.9,716.0 L649.7,715.0 L650.7,714.1 L651.8,714.4 L652.5,712.4 L653.1,712.0 L654.6,710.5 L655.5,709.7 L655.7,709.6 L656.5,706.7 L656.7,706.0 L657.2,705.8 L657.6,704.6 L658.2,703.1 L658.3,701.6 L659.3,702.2 L659.9,700.4 L660.7,698.9 L662.0,698.1 L662.8,697.6 L664.0,696.8 L664.7,695.6 L665.4,695.4 L666.6,692.7 L667.0,691.9 L667.3,691.0 L667.9,689.7 L668.4,689.7 L668.8,687.0 L669.4,686.2 L669.7,684.8 L670.4,684.8 L670.9,682.3 L671.2,682.2 L671.6,679.4 L672.1,678.5 L672.9,677.0 L673.2,676.4 L673.7,675.7 L674.4,674.5 L675.1,674.0 L675.9,671.5 L675.9,670.2 L676.8,670.1 L677.3,668.6 L678.0,668.0 L678.3,666.6 L678.4,665.7 L679.5,663.9 L679.6,663.3 L680.0,661.4 L680.7,660.0 L681.2,657.8 L681.1,658.2 L682.0,656.7 L682.3,655.5 L682.9,653.6 L683.4,652.7 L684.1,652.3 L684.3,651.5 L684.8,650.4 L685.0,648.8 L685.7,647.7 L686.1,646.1 L686.5,646.1 L686.7,643.4 L687.2,642.1 L688.1,643.0 L688.4,640.9 L689.0,640.3 L688.7,638.5 L690.0,637.2 L689.9,635.9 L690.7,634.9 L690.9,634.8 L691.3,632.9 L691.5,631.1 L692.3,629.9 L692.7,630.3 L693.2,628.3 L693.2,627.3 L694.0,626.5 L694.3,625.0 L694.8,622.7 L694.8,623.7 L695.5,622.1 L695.5,620.0 L696.2,619.3 L696.9,617.9 L697.2,616.7 L697.5,616.2 L698.1,615.4 L698.2,614.2 L698.9,612.1 L699.5,611.0 L699.7,610.6 L700.2,609.1 L700.7,608.1 L700.9,607.0 L701.3,605.5 L701.5,604.8 L701.8,603.2 L702.1,601.7 L702.4,601.2 L702.5,599.4 L702.8,598.4 L703.1,597.2 L703.4,596.1 L703.8,594.9 L703.9,593.8 L704.1,592.3 L704.5,591.5 L704.7,590.1 L705.1,589.2 L705.4,587.3 L705.5,586.4 L705.7,585.1 L705.9,583.8 L706.0,582.7 L706.3,581.1 L706.7,580.0 L706.8,578.9 L707.2,577.7 L707.4,576.4 L707.7,575.3 L708.1,573.6 L708.3,572.6 L708.7,570.9 L709.0,570.0 L709.3,568.6 L709.5,567.4 L709.8,566.2 L710.2,565.0 L710.6,563.5 L710.8,562.5 L711.1,561.0 L711.3,560.1 L711.7,558.9 L712.0,557.1 L712.4,556.2 L712.8,554.9 L712.7,553.7 L713.2,552.6 L713.5,551.1 L713.7,550.0 L714.0,548.6 L714.3,547.5 L714.4,546.2 L714.7,545.1 L715.1,544.0 L715.3,542.3 L715.6,541.5 L715.8,540.1 L716.0,539.4 L716.2,538.1 L716.4,536.6 L716.7,535.6 L716.9,534.2 L717.1,533.4 L717.5,531.9 L717.6,530.8 L717.9,529.7 L718.2,528.4 L718.3,526.7 L718.7,526.1 L718.8,524.9 L719.0,523.9 L719.4,522.7 L719.5,521.6 L719.9,520.4 L719.9,519.0 L720.4,517.5 L720.7,516.4 L721.0,515.1 L721.1,513.7 L721.5,512.6 L721.6,511.4 L721.9,510.4 L722.2,509.6 L722.5,507.6 L722.7,506.8 L723.0,505.6 L723.3,504.4 L723.6,503.0 L723.8,502.2 L724.0,500.5 L724.2,499.7 L724.7,498.0 L724.8,496.9 L725.1,496.0 L725.3,495.0 L725.6,494.0 L725.9,492.3 L726.1,491.2 L726.5,489.9 L726.6,488.6 L726.8,487.1 L727.0,486.5 L727.3,485.0 L727.5,484.2 L727.7,483.0 L727.9,481.7 L728.1,480.1 L728.3,479.0 L728.6,477.4 L728.8,476.8 L728.9,475.7 L729.0,474.5 L729.3,473.1 L729.7,471.9 L729.9,470.8 L730.0,469.5 L730.1,468.3 L730.4,467.5 L730.7,466.2 L730.8,464.6 L731.1,463.7 L731.2,462.7 L731.4,461.3 L731.7,460.2 L732.0,459.1 L732.1,457.6 L732.6,456.4 L732.6,455.2 L732.8,454.4 L733.2,452.6 L733.3,452.1 L733.6,450.4 L733.8,449.4 L733.9,447.8 L734.3,446.7 L734.4,445.4 L734.8,444.1 L734.9,443.1 L735.1,441.7 L735.3,440.8 L735.6,439.2 L735.8,438.2 L736.0,437.1 L736.3,435.9 L736.5,434.8 L736.6,433.0 L736.8,432.5 L737.0,431.0 L737.5,429.9 L737.6,428.9 L737.8,427.5 L738.0,425.9 L738.2,425.3 L738.3,424.2 L738.7,422.2 L738.8,421.9 L739.1,420.2 L739.2,419.1 L739.5,417.8 L739.5,416.8 L739.7,416.0 L739.9,414.5 L740.2,412.8 L740.4,411.5 L740.6,410.6 L740.7,409.2 L741.1,408.5 L741.1,407.2 L741.4,406.1 L741.6,404.3 L741.9,403.6 L742.1,402.1 L742.3,401.5 L742.5,399.7 L742.6,399.2 L742.7,397.8 L742.9,396.0 L743.2,395.5 L743.3,394.1 L743.6,392.3 L743.7,392.0 L743.9,390.7 L744.0,389.3 L744.1,388.1 L744.4,386.7 L744.6,385.6 L744.8,384.6 L745.0,382.7 L745.1,382.3 L745.2,380.8 L745.6,379.4 L745.7,378.5 L745.7,377.1 L745.9,375.9 L746.2,375.0 L746.4,373.5 L746.6,372.7 L746.8,371.4 L747.0,370.1 L747.1,369.2 L747.3,367.4 L747.5,366.2 L747.9,365.1 L748.0,363.9 L748.2,363.1 L748.6,361.5 L748.8,360.6 L748.9,359.5 L749.1,358.1 L749.3,356.5 L749.4,355.4 L749.7,354.3 L749.9,353.5 L750.2,352.2 L750.4,350.6 L750.6,349.2 L750.7,348.5 L751.1,347.2 L751.4,345.7 L751.5,344.2 L751.7,343.7 L751.8,342.1 L752.2,341.6 L752.4,339.9 L752.6,338.8 L752.7,337.5 L753.0,336.4 L753.2,335.1 L753.4,333.9 L753.6,333.0 L753.6,332.2 L753.9,330.2 L754.0,329.2 L754.2,327.8 L754.3,326.7 L754.5,325.4 L754.7,324.5 L754.8,323.7 L755.1,322.0 L755.2,321.1 L755.5,319.5 L755.6,318.5 L755.9,317.0 L756.2,315.8 L756.4,314.8 L756.3,313.5 L756.7,312.3 L756.8,311.2 L757.0,309.8 L757.3,308.9 L757.5,307.5 L757.6,306.2 L757.8,305.6 L758.0,303.8 L758.1,302.9 L758.3,302.1 L758.5,300.4 L758.7,299.6 L758.8,297.8 L759.0,296.3 L759.2,295.6 L759.5,294.6 L759.7,293.3 L759.8,292.7 L760.1,290.7 L760.1,289.7 L760.5,288.5 L760.6,287.4 L760.8,285.8 L760.9,284.4 L761.2,283.5 L761.3,282.9 L761.5,281.2 L761.6,279.5 L762.0,278.8 L762.1,277.8 L762.3,276.6 L762.6,275.0 L762.7,274.0 L763.0,273.4 L763.0,272.0 L763.3,270.6 L763.5,269.2 L763.6,268.0 L763.8,267.2 L764.1,265.5 L764.3,264.7 L764.4,263.2 L764.7,261.8 L765.0,260.7 L765.2,259.6 L765.3,258.4 L765.6,257.0 L765.6,256.0 L765.9,254.9 L766.0,253.3 L766.3,252.3 L766.5,250.8 L766.7,249.7 L767.0,248.3 L767.1,247.5 L767.3,246.3 L767.6,244.8 L767.8,244.3 L768.1,243.1 L768.4,241.6 L768.5,239.9 L768.6,239.2 L769.0,238.0 L769.1,236.7 L769.4,235.8 L769.7,233.9 L769.8,233.5 L770.0,231.7 L770.3,230.7 L770.6,229.6 L770.8,228.3 L771.1,227.5 L771.2,226.1 L771.5,224.8 L771.7,223.7 L771.9,222.2 L772.1,221.4 L772.4,219.6 L772.6,218.7 L773.0,217.8 L773.1,216.7 L773.5,215.6 L773.7,214.2 L774.0,213.2 L774.2,211.6 L774.5,210.3 L774.7,209.1 L775.0,208.5 L775.3,207.1 L775.5,205.7 L775.8,204.4 L776.0,203.2 L776.5,202.0 L776.5,201.4 L776.9,199.7 L777.0,198.3 L777.4,197.2 L777.6,196.2 L777.8,195.1 L778.2,193.5 L778.4,192.5 L778.8,190.8 L779.1,190.0 L779.1,189.1 L779.4,187.4 L779.6,186.2 L779.9,185.0 L780.1,183.8 L780.3,182.4 L780.5,181.7 L780.8,180.5 L781.0,179.5 L781.1,178.3 L781.4,176.9 L781.5,176.1 L781.9,174.7 L782.2,173.8 L782.4,172.4 L782.8,171.2 L783.1,169.8 L783.6,168.7 L784.1,167.6 L784.4,166.0 L784.8,165.2 L785.2,163.7 L785.4,162.5 L786.1,161.9 L786.4,160.4 L786.8,159.3 L787.3,157.9 L787.9,156.7 L788.3,156.0 L788.8,154.4 L789.5,153.8 L790.0,152.3 L790.6,151.9 L791.2,150.3 L791.6,149.3 L792.1,148.3 L792.7,147.4 L793.3,146.2 L794.0,145.0 L794.9,144.0 L795.5,143.4 L796.4,142.4 L797.0,141.4 L797.9,140.6 L798.6,140.0 L799.2,138.9 L800.1,138.1 L801.1,137.2 L802.1,136.5 L803.0,135.6 L804.4,135.3 L805.3,134.9 L806.4,134.2 L807.5,133.8 L808.5,133.2 L809.8,132.6 L810.9,132.3 L812.1,131.9 L813.4,131.9 L814.7,131.7 L815.9,131.8 L817.0,131.8 L818.4,131.3 L819.6,131.0 L821.0,130.6 L822.3,131.1 L823.6,130.6 L824.9,130.3 L826.2,130.2 L827.5,130.2 L828.7,129.7 L829.9,129.6 L831.3,129.2 L832.4,129.0 L833.6,129.3 L835.0,129.1 L836.3,129.0 L837.7,128.9 L838.8,128.2 L840.1,128.6 L841.3,128.0 L842.6,128.3 L843.8,128.3 L845.3,127.9 L846.5,128.1 L847.8,128.1 L849.0,128.1 L850.5,128.0 L851.5,127.8 L852.9,127.7 L854.0,127.4 L855.1,127.6 L856.4,127.4 L857.6,127.4 L858.6,127.4 L860.0,127.9 L861.1,127.4 L862.4,127.4 L863.6,127.7 L864.9,127.1 L865.9,127.2 L867.1,127.2 L868.4,127.0 L869.6,127.0 L870.8,127.2 L871.9,127.3 L873.1,127.1 L874.4,126.8 L875.6,126.8 L876.9,127.0 L877.9,127.1 L879.2,127.4 L880.4,127.0 L881.5,126.7 L882.8,126.9 L884.1,126.7 L885.2,126.4 L886.3,126.5 L887.7,126.9 L888.8,126.3 L889.9,126.6 L891.3,126.5 L892.5,126.3 L893.6,126.2 L894.7,126.1 L895.9,125.6 L897.2,126.1 L898.5,125.9 L899.7,125.6 L900.9,125.5 L902.0,125.3 L903.3,125.4 L904.5,125.4 L905.6,125.5 L906.7,125.3 L908.0,124.9 L909.3,125.0 L910.5,125.0 L911.6,124.7 L912.8,124.6 L914.1,124.5 L915.3,124.4 L916.4,124.2 L917.8,123.7 L918.9,124.3 L920.2,124.3 L921.4,123.3 L922.5,123.3 L923.7,123.3 L925.0,123.4 L926.2,122.8 L927.4,122.6 L928.5,122.3 L929.7,121.1 L930.8,120.3 L931.7,119.5 L932.5,119.8" fill="none" stroke="#ff0000" stroke-width="5.2" stroke-linejoin="round" stroke-linecap="round" />
<path d="M164.1,1667.6 L163.9,1667.4 L165.2,1664.9 L167.7,1666.7 L167.2,1668.8 L169.0,1667.7 L169.5,1666.1 L169.8,1668.1 L170.0,1666.1 L170.8,1669.6 L173.0,1669.6 L174.4,1666.9 L175.5,1670.7 L177.3,1667.7 L177.7,1664.6 L178.8,1664.1 L179.2,1672.4 L179.6,1672.1 L182.5,1669.9 L183.6,1672.7 L185.0,1671.5 L184.7,1671.4 L185.3,1673.5 L186.4,1677.1 L186.6,1672.4 L188.3,1670.6 L191.5,1670.4 L190.9,1675.7 L193.5,1672.6 L194.2,1676.3 L194.4,1676.8 L196.1,1675.9 L196.8,1679.5 L199.4,1672.3 L200.4,1680.2 L200.1,1678.1 L201.3,1681.0 L203.0,1675.8 L203.8,1675.3 L205.0,1673.0 L207.8,1669.8 L204.6,1673.7 L208.2,1674.3 L209.3,1672.3 L210.7,1674.5 L211.2,1670.6 L214.1,1672.3 L213.1,1676.3 L215.6,1668.6 L215.3,1670.5 L216.8,1666.7 L217.6,1667.7 L220.6,1667.5 L219.9,1669.8 L222.3,1669.7 L224.3,1666.6 L224.5,1666.3 L225.0,1667.5 L228.1,1665.7 L228.1,1664.0 L228.9,1662.1 L230.5,1661.5 L231.7,1659.2 L233.6,1662.8 L233.7,1656.6 L235.9,1664.6 L236.6,1660.2 L238.0,1662.7 L239.0,1663.1 L240.7,1662.6 L242.2,1659.4 L242.4,1657.9 L244.6,1661.0 L246.2,1657.3 L247.6,1661.2 L248.4,1657.5 L249.4,1660.7 L251.2,1656.6 L252.2,1658.2 L252.4,1663.1 L254.7,1658.8 L255.2,1662.5 L255.7,1661.6 L257.7,1657.8 L258.5,1664.3 L259.6,1658.8 L260.4,1659.5 L261.6,1662.4 L262.2,1658.3 L262.6,1661.6 L263.3,1659.9 L265.3,1657.3 L267.7,1657.5 L268.6,1652.0 L266.4,1659.4 L269.8,1656.3 L270.5,1652.6 L271.4,1655.1 L272.9,1660.2 L274.4,1659.2 L275.1,1657.4 L277.0,1658.0 L279.1,1656.5 L280.9,1656.2 L281.5,1656.7 L283.2,1658.8 L283.6,1660.3 L284.1,1655.7 L284.3,1661.3 L286.6,1656.7 L288.3,1663.2 L288.3,1658.9 L290.6,1659.7 L290.8,1657.5 L294.0,1662.5 L295.9,1656.5 L295.9,1658.4 L296.1,1654.9 L298.8,1658.8 L299.2,1660.8 L299.6,1658.5 L301.5,1656.5 L302.9,1656.6 L303.8,1656.2 L306.1,1654.3 L306.5,1656.2 L306.5,1656.6 L307.2,1657.7 L308.3,1654.1 L310.3,1658.1 L311.8,1658.9 L312.0,1655.0 L313.6,1658.8 L313.6,1661.2 L315.5,1657.0 L316.8,1656.7 L316.8,1661.5 L317.4,1660.8 L318.5,1662.3 L320.0,1660.4 L320.4,1658.4 L323.2,1659.7 L322.1,1660.2 L325.1,1656.2 L326.6,1653.8 L326.5,1658.7 L328.7,1658.5 L328.0,1650.3 L330.2,1650.6 L331.0,1650.4 L333.0,1655.0 L333.7,1652.5 L334.5,1651.4 L335.8,1652.7 L336.9,1651.2 L338.9,1653.5 L339.5,1656.8 L338.8,1650.0 L341.3,1653.9 L341.4,1654.7 L342.4,1652.5 L343.2,1654.1 L344.2,1648.8 L345.8,1654.7 L344.9,1651.2 L347.2,1653.8 L348.2,1655.1 L349.3,1648.8 L349.9,1653.1 L351.1,1653.6 L353.5,1653.4 L354.7,1652.0 L355.2,1651.5 L355.9,1649.6 L357.1,1651.4 L357.5,1655.2 L360.0,1654.7 L361.8,1658.8 L362.6,1655.7 L361.7,1659.5 L364.1,1660.7 L365.3,1662.7 L365.9,1661.6 L366.6,1654.3 L368.2,1663.7 L368.6,1662.2 L370.6,1658.4 L372.4,1659.6 L372.9,1659.0 L375.2,1660.4 L375.6,1661.8 L378.8,1663.5 L377.6,1657.3 L378.4,1657.2 L381.5,1652.8 L381.1,1655.6 L383.9,1652.5 L384.5,1647.6 L385.3,1653.7 L387.1,1656.7 L387.2,1646.6 L389.5,1650.2 L390.5,1652.9 L391.9,1654.1 L393.6,1645.8 L393.6,1654.3 L394.3,1651.0 L395.5,1646.8 L397.6,1649.6 L397.1,1648.4 L397.1,1643.5 L399.6,1644.5 L398.9,1644.6 L400.8,1645.9 L402.1,1641.2 L401.8,1640.9 L402.9,1644.7 L405.1,1644.8 L404.9,1641.6 L405.8,1642.5 L405.7,1640.4 L405.5,1649.4 L405.3,1643.4 L406.2,1652.5 L407.7,1648.7 L406.6,1650.6 L406.5,1652.3 L407.3,1649.8 L407.4,1654.0 L407.8,1653.0 L409.9,1661.5 L409.9,1656.2 L411.6,1656.9 L411.9,1660.8 L412.9,1655.2 L414.4,1654.5 L415.9,1657.7 L418.3,1657.5 L418.4,1652.3 L419.4,1652.5 L420.5,1656.7 L421.7,1653.0 L422.0,1652.8 L423.7,1649.9 L424.2,1653.7 L424.4,1649.7 L425.8,1654.1 L428.2,1650.9 L429.1,1649.8 L430.2,1644.7 L431.4,1649.9 L431.4,1650.2 L434.3,1644.1 L434.7,1647.0 L435.9,1648.5 L436.6,1646.9 L439.0,1649.2 L440.1,1646.9 L441.9,1642.8 L443.3,1647.3 L443.0,1647.3 L443.8,1643.6 L446.2,1647.1 L448.2,1647.2 L447.9,1647.5 L451.2,1650.5 L450.5,1648.7 L451.2,1651.5 L453.3,1655.5 L454.9,1653.9 L454.6,1651.5 L454.5,1651.2 L457.8,1652.8 L458.9,1650.1 L460.5,1654.0 L461.1,1654.0 L460.6,1651.3 L462.8,1656.9 L464.6,1650.7 L466.5,1648.9 L468.2,1649.3 L468.3,1648.3 L470.1,1644.7 L471.2,1647.6 L471.9,1646.4 L473.3,1649.5 L474.8,1649.7 L476.0,1651.2 L476.5,1645.7 L477.0,1650.3 L478.8,1651.3 L480.2,1646.4 L481.9,1654.3 L481.9,1647.9 L482.3,1653.3 L483.4,1651.0 L485.2,1653.0 L485.6,1652.5 L485.9,1655.2 L487.3,1657.1 L487.6,1657.1 L489.1,1656.7 L489.9,1658.6 L490.2,1655.5 L490.0,1655.1 L491.2,1652.5 L491.3,1653.6 L494.4,1652.1 L493.2,1651.0 L493.3,1649.1 L493.8,1646.2 L495.1,1647.2 L495.4,1643.6 L496.3,1641.9 L497.3,1642.9 L497.5,1645.3 L498.7,1640.2 L499.0,1644.8 L499.3,1638.6 L501.0,1645.2 L502.3,1646.3 L503.1,1647.4 L505.0,1648.8 L505.3,1647.2 L506.8,1648.1 L507.6,1643.5 L508.4,1648.6 L509.1,1652.0 L511.0,1648.3 L511.5,1653.2 L513.6,1649.9 L513.6,1651.2 L515.6,1646.7 L516.1,1642.7 L517.6,1643.3 L518.7,1644.2 L518.5,1645.4 L520.1,1641.0 L520.8,1644.5 L521.6,1638.9 L522.6,1639.2 L523.4,1641.0 L524.9,1639.7 L524.9,1640.4 L527.1,1637.9 L528.5,1643.0 L528.5,1633.6 L531.2,1635.0 L532.7,1634.1 L532.5,1638.4 L534.7,1637.5 L535.5,1636.4 L535.9,1636.8 L538.3,1639.6 L538.5,1639.2 L540.3,1641.9 L540.7,1639.3 L542.1,1646.6 L543.1,1643.9 L542.9,1643.5 L544.1,1639.4 L545.7,1642.5 L547.4,1644.5 L548.5,1643.3 L551.3,1646.0 L550.9,1650.6 L552.1,1647.2 L552.6,1650.1 L552.5,1642.6 L554.4,1639.2 L554.6,1646.3 L555.8,1643.1 L557.6,1639.1 L558.2,1639.6 L558.1,1639.7 L559.8,1638.7 L560.3,1641.5 L562.7,1640.1 L562.9,1635.9 L563.5,1635.9 L565.4,1641.1 L567.1,1639.0 L567.3,1639.8 L568.9,1641.1 L571.1,1638.2 L572.7,1634.9 L571.0,1636.5 L572.8,1639.8 L576.3,1638.7 L576.9,1639.5 L577.4,1637.8 L580.3,1640.1 L579.4,1645.7 L581.3,1641.0 L582.2,1637.7 L582.4,1638.9 L585.7,1639.8 L585.2,1640.7 L585.6,1640.7 L587.1,1634.3 L588.5,1636.8 L588.6,1635.2 L590.4,1637.4 L590.0,1626.6 L593.1,1631.8 L592.3,1632.8 L593.3,1633.7 L593.8,1629.9 L594.8,1633.6 L596.6,1631.9 L598.9,1625.6 L598.9,1629.8 L600.2,1627.3 L601.7,1628.1 L602.4,1626.6 L603.9,1627.1 L604.7,1625.8 L606.1,1627.3 L606.3,1627.7 L606.9,1627.7 L607.3,1627.2 L608.6,1626.3 L609.1,1625.4 L609.5,1626.0 L609.9,1623.2 L611.2,1622.1 L611.1,1619.5 L612.7,1618.8 L613.0,1619.8 L614.0,1616.6 L614.5,1618.3 L616.0,1618.0 L617.5,1618.3 L618.2,1615.9 L620.1,1616.9 L620.3,1614.7 L621.7,1614.8 L621.7,1616.1 L622.8,1614.9 L622.7,1609.6 L623.3,1611.5 L624.0,1611.8 L624.9,1608.3 L625.5,1608.2 L625.6,1608.6 L625.7,1607.4 L627.3,1602.6 L627.4,1603.8 L627.6,1602.2 L628.3,1601.9 L629.0,1598.2 L630.2,1600.8 L630.0,1599.7 L631.6,1595.7 L631.3,1595.9 L632.3,1595.1 L632.1,1595.9 L633.1,1594.2 L634.7,1591.4 L634.4,1592.3 L635.1,1590.8 L635.8,1592.5 L636.7,1588.5 L637.2,1587.5 L637.3,1585.6 L638.8,1583.5 L639.2,1583.7 L639.7,1585.8 L640.8,1582.1 L641.0,1580.8 L641.8,1579.5 L642.7,1581.6 L643.7,1579.6 L644.4,1579.8 L644.2,1573.8 L645.1,1574.6 L645.7,1572.5 L646.5,1574.3 L646.9,1570.9 L647.9,1569.7 L647.9,1569.4 L647.8,1570.3 L649.2,1567.6 L649.9,1566.4 L649.9,1567.0 L651.2,1564.1 L652.7,1561.2 L652.4,1561.6 L652.2,1562.9 L652.7,1559.7 L653.7,1558.6 L653.7,1558.9 L654.4,1554.5 L654.1,1555.2 L654.3,1554.2 L655.1,1551.7 L654.5,1549.6 L655.6,1549.3 L656.4,1548.2 L656.1,1548.2 L656.3,1546.5 L656.9,1544.7 L657.1,1543.2 L658.1,1542.6 L658.2,1537.6 L658.2,1538.7 L659.0,1538.4 L659.1,1537.4 L660.3,1537.9 L660.4,1536.7 L660.9,1535.0 L661.3,1534.4 L663.0,1531.6 L663.1,1529.1 L662.9,1532.8 L663.6,1529.1 L663.5,1527.3 L664.2,1527.6 L664.8,1528.0 L665.0,1524.2 L665.2,1522.1 L666.8,1521.3 L666.3,1520.9 L667.6,1519.6 L668.0,1516.2 L668.8,1517.6 L667.8,1517.9 L668.9,1515.1 L668.7,1512.5 L669.2,1513.1 L670.2,1509.8 L670.6,1511.1 L670.9,1509.3 L671.1,1505.4 L671.8,1505.9 L672.5,1506.2 L672.7,1503.5 L673.6,1503.3 L673.7,1501.9 L673.3,1499.8 L674.0,1498.8 L675.3,1496.0 L675.7,1496.2 L675.7,1495.1 L676.3,1493.6 L675.7,1493.6 L676.7,1492.7 L677.3,1489.3 L677.5,1489.6 L677.8,1488.4 L678.3,1486.4 L678.4,1487.0 L678.4,1484.4 L678.8,1482.0 L679.4,1482.3 L680.4,1480.6 L680.6,1480.3 L680.7,1474.7 L681.1,1477.3 L681.2,1476.2 L682.5,1473.5 L682.2,1474.8 L682.2,1471.3 L683.4,1472.5 L684.2,1471.1 L685.0,1469.4 L684.2,1467.6 L685.4,1467.1 L685.0,1465.9 L685.9,1464.1 L687.2,1462.9 L687.0,1461.8 L687.5,1463.3 L688.6,1460.8 L688.6,1457.7 L689.5,1454.7 L690.3,1454.7 L690.5,1455.4 L690.6,1454.3 L691.6,1455.0 L691.9,1453.7 L692.3,1450.0 L692.8,1448.4 L692.9,1448.6 L693.6,1446.9 L693.0,1447.0 L694.0,1443.8 L694.0,1443.7 L694.8,1442.6 L695.0,1442.4 L695.3,1439.8 L695.8,1439.4 L695.8,1436.6 L696.4,1435.0 L696.6,1433.2 L697.4,1435.2 L697.1,1433.2 L697.4,1430.2 L698.1,1430.1 L698.7,1426.5 L698.4,1427.8 L699.1,1429.1 L699.5,1424.6 L700.3,1421.0 L700.1,1423.9 L700.6,1421.9 L701.0,1420.5 L701.3,1419.2 L701.8,1418.7 L702.2,1417.0 L702.4,1415.9 L702.9,1415.0 L703.2,1413.5 L703.8,1412.7 L704.2,1411.0 L704.6,1410.8 L705.1,1408.8 L705.6,1407.9 L705.9,1406.5 L706.4,1405.6 L706.6,1404.1 L706.9,1403.2 L707.3,1402.4 L707.6,1400.6 L708.1,1399.7 L708.2,1398.7 L708.7,1397.3 L709.0,1396.1 L709.3,1394.5 L709.8,1393.5 L710.2,1392.5 L710.7,1391.1 L710.9,1389.7 L711.7,1388.5 L712.2,1387.7 L712.7,1386.7 L713.2,1385.3 L713.8,1384.1 L714.2,1383.1 L714.8,1381.9 L715.2,1380.6 L715.8,1379.8 L716.4,1378.4 L716.8,1376.6 L717.4,1376.3 L717.8,1374.6 L718.0,1373.8 L718.7,1372.8 L719.3,1371.5 L719.7,1370.2 L720.1,1369.1 L720.7,1367.0 L721.2,1365.9 L721.8,1364.7 L722.2,1363.6 L722.8,1362.5 L723.4,1361.6 L723.9,1360.5 L724.1,1358.9 L724.9,1357.3 L725.2,1356.7 L725.6,1355.3 L726.2,1354.2 L726.7,1353.9 L727.0,1351.7 L727.5,1350.8 L727.8,1349.7 L728.4,1348.6 L728.9,1347.9 L729.3,1346.3 L729.8,1345.3 L730.2,1343.9 L730.4,1343.3 L731.1,1341.7 L731.6,1340.7 L732.1,1340.1 L732.6,1338.5 L733.0,1337.3 L733.6,1336.2 L734.1,1334.8 L734.6,1333.6 L735.0,1332.5 L735.6,1332.0 L736.1,1330.2 L736.5,1329.7 L737.1,1328.4 L737.4,1326.9 L738.0,1325.8 L738.6,1324.8 L739.1,1323.8 L739.6,1322.4 L740.3,1321.0 L740.8,1319.8 L741.4,1319.1 L742.1,1318.1 L742.7,1316.5 L743.5,1316.1 L743.8,1314.3 L744.5,1313.5 L745.1,1312.3 L745.4,1312.0 L746.3,1310.2 L746.7,1308.7 L747.3,1307.3 L747.8,1306.2 L748.5,1305.0 L749.1,1303.4 L749.9,1303.0 L750.6,1302.2 L751.4,1301.1 L752.4,1300.2 L753.3,1299.4 L754.2,1298.2 L754.8,1297.1 L755.5,1295.6 L756.3,1294.5 L757.0,1293.8 L757.7,1292.5 L758.5,1291.7 L759.4,1290.9 L760.1,1289.5 L760.7,1288.2 L761.4,1287.8 L762.2,1286.5 L763.0,1286.0 L763.8,1284.8 L764.6,1283.8 L765.3,1282.1 L766.3,1281.4 L767.0,1280.8 L767.9,1279.6 L768.6,1278.4 L769.6,1277.9 L770.5,1276.9 L771.3,1275.9 L772.4,1274.8 L773.2,1274.5 L774.3,1273.5 L775.1,1272.2 L776.1,1271.4 L777.1,1271.1 L778.2,1270.5 L779.1,1269.0 L780.4,1268.9 L781.2,1267.9 L782.3,1267.1 L783.5,1266.7 L784.4,1265.5 L785.7,1265.2 L786.8,1264.4 L787.7,1263.4 L789.0,1264.1 L790.1,1263.1 L791.0,1262.2 L792.3,1262.6 L793.6,1261.3 L794.7,1261.1 L795.9,1260.1 L797.0,1260.1 L798.3,1259.1 L799.6,1258.9 L800.5,1258.7 L801.8,1258.0 L803.1,1258.1 L804.1,1257.7 L805.3,1257.1 L806.5,1256.8 L807.6,1256.9 L808.7,1256.3 L810.0,1256.4 L811.2,1256.5 L812.6,1255.6 L813.8,1255.5 L815.0,1255.7 L816.4,1255.9 L817.7,1254.8 L818.7,1254.9 L820.0,1254.8 L821.3,1254.5 L822.4,1255.2 L823.8,1255.0 L825.0,1254.6 L826.4,1254.4 L827.4,1254.0 L828.7,1253.4 L830.0,1253.7 L831.3,1253.4 L832.6,1253.2 L833.8,1253.6 L835.1,1253.5 L836.3,1253.1 L837.6,1253.4 L838.7,1253.2 L840.0,1253.3 L841.4,1253.0 L842.8,1253.5 L843.9,1252.9 L845.0,1252.8 L846.4,1253.0 L847.7,1252.8 L848.8,1252.6 L850.0,1252.6 L851.2,1252.6 L852.6,1253.3 L853.8,1252.8 L855.0,1252.9 L856.1,1252.4 L857.1,1252.1 L858.6,1251.7 L859.7,1252.1 L860.9,1252.2 L862.1,1251.7 L863.3,1251.4 L864.6,1251.9 L865.8,1251.6 L867.1,1252.1 L868.1,1251.8 L869.3,1251.5 L870.5,1251.6 L871.7,1252.0 L873.0,1251.6 L874.2,1251.4 L875.3,1250.9 L876.4,1250.9 L877.7,1251.2 L879.0,1251.5 L880.2,1251.1 L881.3,1250.9 L882.6,1250.7 L883.6,1250.8 L885.0,1251.2 L886.2,1250.2 L887.3,1250.9 L888.7,1251.2 L889.7,1250.7 L890.8,1250.4 L892.1,1250.7 L893.4,1249.8 L894.6,1250.4 L895.9,1250.0 L896.9,1250.0 L898.3,1250.0 L899.4,1250.1 L900.6,1250.2 L901.7,1250.3 L903.1,1249.3 L904.3,1249.1 L905.5,1249.1 L906.7,1249.1 L908.1,1248.9 L909.3,1248.7 L910.6,1248.7 L911.7,1248.7 L913.0,1248.3 L914.2,1248.5 L915.4,1248.1 L916.8,1248.1 L918.0,1248.6 L919.0,1247.8 L920.3,1247.8 L921.6,1246.7 L922.8,1246.8 L923.8,1246.5 L925.0,1245.9 L926.1,1246.2 L927.0,1245.3 L927.9,1245.0" fill="none" stroke="#000" stroke-width="6.6" stroke-linejoin="round" stroke-linecap="round" />
<path d="M163.0,1712.6 L163.7,1712.6 L164.8,1712.6 L166.0,1712.1 L166.9,1712.2 L168.0,1712.5 L169.4,1712.8 L170.7,1713.8 L172.0,1711.8 L173.1,1712.3 L174.2,1713.2 L175.5,1711.5 L176.8,1712.2 L177.8,1711.8 L179.1,1712.2 L180.3,1712.1 L181.9,1711.6 L182.7,1711.8 L184.2,1711.5 L185.5,1711.1 L186.3,1711.6 L187.6,1711.2 L189.0,1711.9 L190.1,1711.3 L191.5,1711.6 L192.5,1712.0 L193.6,1711.5 L195.0,1711.4 L196.1,1711.6 L197.3,1711.1 L198.4,1712.1 L199.7,1712.0 L201.0,1711.3 L202.3,1711.5 L203.4,1710.7 L204.6,1711.7 L205.9,1711.7 L207.3,1711.3 L208.7,1710.2 L209.6,1709.5 L211.0,1710.6 L212.4,1710.2 L213.1,1710.8 L214.5,1709.3 L216.0,1710.0 L217.2,1709.6 L218.2,1710.1 L219.8,1709.1 L221.1,1708.9 L222.3,1708.2 L223.6,1708.7 L225.0,1708.3 L226.1,1708.3 L227.4,1708.2 L228.5,1707.7 L230.0,1708.1 L231.0,1709.6 L232.4,1708.3 L233.5,1707.3 L234.9,1707.8 L236.0,1708.3 L237.4,1707.8 L238.5,1708.6 L239.8,1706.9 L241.1,1707.4 L242.2,1707.4 L243.5,1707.8 L244.8,1706.7 L246.2,1706.0 L247.4,1706.0 L248.7,1705.3 L249.9,1704.7 L251.0,1705.2 L252.4,1705.9 L253.9,1703.9 L254.8,1704.9 L256.2,1703.3 L257.5,1703.1 L258.6,1702.7 L259.9,1704.1 L261.3,1702.6 L262.8,1702.2 L263.7,1701.9 L265.0,1701.6 L266.4,1701.3 L267.4,1701.3 L268.5,1700.4 L269.8,1699.4 L271.1,1700.3 L272.3,1699.9 L273.6,1699.5 L274.8,1698.6 L276.1,1698.7 L277.3,1698.7 L278.4,1698.3 L279.9,1697.9 L280.7,1698.3 L282.2,1698.0 L283.3,1697.4 L284.8,1697.0 L286.0,1697.6 L287.2,1696.5 L288.7,1696.9 L289.7,1696.5 L290.8,1696.4 L292.3,1695.9 L293.6,1696.7 L294.9,1695.9 L296.3,1696.3 L297.6,1695.3 L298.4,1696.0 L300.0,1695.4 L301.3,1695.3 L302.5,1696.5 L303.6,1696.1 L305.2,1696.6 L306.4,1696.0 L307.5,1695.8 L308.5,1695.4 L310.0,1695.5 L311.2,1695.8 L312.2,1694.9 L313.5,1694.4 L314.7,1694.9 L315.7,1694.0 L317.2,1692.8 L318.0,1691.7 L319.1,1692.9 L320.1,1691.7 L321.5,1692.1 L322.9,1690.2 L323.9,1690.8 L325.3,1690.0 L326.4,1690.1 L327.8,1690.3 L329.0,1689.7 L330.3,1689.6 L331.3,1689.5 L332.7,1689.4 L333.7,1690.0 L335.3,1689.9 L336.5,1689.4 L337.9,1688.8 L339.4,1688.3 L340.5,1687.6 L341.8,1688.2 L342.9,1687.7 L344.1,1687.2 L345.7,1686.2 L347.1,1687.6 L348.1,1686.0 L349.3,1685.8 L350.7,1687.1 L351.9,1686.0 L353.5,1684.9 L354.6,1685.4 L355.8,1685.5 L357.6,1684.8 L358.4,1685.1 L359.9,1684.6 L361.1,1685.1 L362.5,1685.8 L363.7,1684.7 L364.8,1686.4 L366.3,1685.4 L368.0,1686.1 L369.2,1685.4 L369.9,1685.1 L371.4,1685.4 L372.5,1686.1 L373.9,1684.2 L374.9,1684.8 L375.9,1685.4 L377.4,1684.8 L378.4,1683.3 L379.7,1683.6 L380.8,1683.5 L382.1,1683.5 L383.3,1683.5 L384.9,1683.8 L385.7,1684.1 L386.9,1682.2 L388.0,1681.9 L389.6,1682.2 L390.4,1682.3 L391.8,1681.8 L393.0,1682.1 L394.4,1681.2 L395.6,1681.4 L396.8,1680.5 L397.8,1680.8 L399.3,1679.5 L400.3,1679.8 L402.0,1679.4 L403.3,1679.2 L404.2,1679.3 L405.6,1678.4 L406.7,1679.9 L407.7,1679.6 L409.3,1680.5 L410.7,1679.7 L412.1,1679.3 L412.8,1680.5 L414.3,1679.3 L415.6,1680.3 L416.8,1679.6 L417.7,1678.9 L419.1,1679.6 L420.3,1679.3 L421.8,1678.9 L422.7,1680.4 L424.0,1679.0 L425.5,1678.3 L426.8,1678.5 L427.6,1678.3 L428.8,1678.5 L430.3,1678.6 L431.6,1678.9 L432.5,1678.4 L433.8,1678.0 L435.1,1678.2 L436.4,1676.8 L437.6,1677.5 L439.1,1677.5 L440.1,1677.4 L441.4,1676.7 L442.5,1677.0 L443.8,1676.8 L444.9,1676.8 L446.1,1677.3 L447.5,1675.4 L448.7,1676.7 L450.0,1675.9 L450.9,1676.5 L452.5,1674.6 L453.7,1676.1 L455.0,1674.3 L456.1,1674.9 L457.8,1674.6 L458.8,1674.0 L459.9,1673.3 L460.9,1672.7 L462.3,1673.6 L463.6,1673.2 L464.9,1672.3 L466.0,1672.9 L467.4,1672.1 L468.9,1671.9 L469.8,1670.9 L471.1,1671.5 L472.1,1669.0 L473.4,1669.6 L474.6,1669.7 L476.0,1668.8 L477.2,1669.4 L478.7,1668.9 L479.6,1668.3 L480.7,1666.4 L482.3,1667.5 L483.4,1667.5 L484.8,1666.6 L485.8,1666.5 L487.1,1666.1 L488.0,1667.0 L489.4,1665.2 L490.8,1665.2 L492.0,1666.2 L493.3,1664.5 L494.4,1664.4 L495.7,1663.7 L496.5,1662.9 L497.9,1663.6 L499.1,1663.5 L499.9,1662.4 L501.1,1662.8 L502.5,1661.1 L503.6,1661.5 L504.7,1661.3 L505.7,1660.4 L506.9,1659.9 L508.0,1660.4 L509.4,1659.4 L510.2,1660.3 L511.7,1659.0 L513.0,1659.5 L514.1,1657.2 L515.3,1658.1 L516.5,1658.6 L517.7,1657.8 L518.9,1657.8 L520.1,1657.6 L521.5,1657.1 L522.8,1656.0 L523.9,1656.7 L525.1,1657.0 L526.5,1655.9 L527.8,1656.0 L529.0,1656.6 L530.0,1655.4 L531.3,1655.5 L532.3,1655.8 L533.9,1655.4 L535.1,1655.5 L536.2,1655.1 L537.5,1654.5 L538.6,1655.1 L539.6,1654.0 L541.3,1653.9 L542.3,1654.4 L543.5,1653.5 L545.0,1653.2 L546.0,1653.3 L547.5,1652.6 L548.7,1652.9 L549.8,1652.1 L551.3,1653.0 L552.3,1652.6 L553.8,1652.4 L554.6,1652.4 L556.0,1653.0 L556.9,1653.1 L558.5,1653.5 L559.6,1653.8 L561.2,1652.8 L562.1,1653.6 L563.6,1653.0 L564.8,1652.1 L566.0,1653.0 L567.2,1652.8 L568.4,1652.2 L569.7,1651.1 L570.8,1651.6 L572.3,1651.2 L573.2,1651.5 L574.6,1651.3 L575.5,1651.1 L577.1,1651.4 L578.0,1650.3 L579.2,1650.8 L580.6,1650.7 L581.8,1650.9 L583.3,1651.3 L584.3,1651.2 L585.5,1651.4 L587.0,1651.3 L588.4,1651.3 L589.5,1651.4 L590.5,1650.5 L591.9,1651.0 L593.3,1649.8 L594.5,1650.1 L595.9,1649.8 L597.0,1650.0 L598.4,1649.6 L599.8,1649.5 L601.4,1649.3 L602.5,1648.2 L603.7,1649.4 L605.0,1649.6 L606.3,1649.4 L607.6,1649.4 L608.8,1649.0 L610.1,1647.8 L611.6,1647.1 L612.6,1648.2 L614.0,1647.1 L615.3,1646.5 L616.9,1646.0 L618.2,1645.5 L619.2,1644.9 L620.6,1645.9 L621.8,1644.3 L623.0,1643.8 L624.5,1643.2 L625.7,1642.2 L626.9,1641.8 L628.3,1641.2 L629.3,1639.9 L630.6,1639.8 L631.4,1639.9 L632.8,1638.6 L633.8,1637.3 L634.5,1637.3 L635.6,1636.9 L636.9,1636.0 L637.9,1635.4 L639.1,1634.6 L640.2,1634.2 L641.1,1632.3 L642.2,1632.1 L643.0,1630.7 L643.9,1631.5 L645.4,1630.7 L646.4,1628.3 L647.2,1627.8 L647.8,1628.0 L649.2,1626.4 L649.9,1625.7 L651.0,1625.4 L652.1,1624.5 L652.8,1623.3 L653.8,1622.8 L654.6,1621.9 L655.5,1621.1 L656.3,1620.2 L657.2,1619.3 L658.0,1618.1 L658.7,1616.8 L659.4,1615.9 L660.2,1615.2 L660.9,1614.4 L661.6,1613.0 L662.6,1612.1 L663.2,1610.6 L664.0,1610.0 L664.6,1609.3 L665.3,1607.8 L666.0,1606.9 L666.6,1605.9 L667.1,1604.9 L667.7,1603.9 L668.5,1603.0 L668.9,1601.7 L669.6,1600.9 L670.0,1599.6 L670.6,1598.3 L671.1,1597.5 L671.8,1596.6 L672.2,1595.6 L672.8,1594.3 L673.4,1593.3 L674.0,1592.2 L674.6,1591.2 L675.1,1589.9 L675.7,1589.0 L676.2,1588.1 L676.7,1586.6 L677.4,1585.5 L677.9,1584.5 L678.5,1583.5 L679.1,1582.2 L679.5,1580.8 L680.1,1580.2 L680.7,1579.2 L681.2,1577.9 L681.9,1576.5 L682.4,1575.4 L682.9,1574.2 L683.4,1573.2 L684.1,1571.9 L684.6,1571.3 L685.1,1570.3 L685.6,1568.8 L686.1,1567.7 L686.5,1566.7 L687.0,1565.5 L687.5,1564.5 L687.8,1563.2 L688.4,1562.6 L688.9,1560.9 L689.4,1559.4 L689.9,1558.6 L690.2,1557.6 L690.7,1556.0 L691.2,1555.4 L691.6,1553.7 L692.1,1552.6 L692.5,1551.3 L692.9,1550.1 L693.3,1548.6 L693.7,1548.0 L694.0,1546.4 L694.4,1545.3 L694.7,1544.4 L695.1,1543.2 L695.5,1541.7 L695.8,1540.6 L696.3,1539.5 L696.6,1538.7 L696.8,1537.3 L697.2,1536.4 L697.5,1535.0 L697.9,1533.8 L698.2,1532.8 L698.6,1531.2 L698.9,1530.6 L699.3,1528.8 L699.7,1527.7 L700.0,1526.9 L700.3,1525.3 L700.8,1524.2 L701.0,1523.3 L701.4,1522.1 L701.7,1521.1 L702.0,1519.6 L702.5,1518.8 L702.8,1517.6 L703.1,1516.5 L703.4,1515.0 L703.8,1514.2 L704.1,1512.7 L704.5,1511.9 L704.8,1510.4 L705.2,1509.3 L705.5,1508.1 L705.9,1506.9 L706.1,1505.8 L706.6,1504.3 L706.9,1503.5 L707.2,1502.1 L707.5,1501.3 L707.8,1500.2 L708.2,1498.9 L708.3,1497.8 L708.8,1496.2 L709.2,1495.2 L709.4,1494.4 L709.8,1493.1 L710.1,1492.0 L710.2,1490.6 L710.7,1489.5 L711.0,1488.2 L711.2,1486.9 L711.6,1485.3 L711.9,1484.7 L712.0,1483.5 L712.5,1482.3 L712.8,1481.3 L713.1,1479.7 L713.3,1478.7 L713.7,1477.2 L713.9,1476.3 L714.3,1474.9 L714.6,1474.0 L714.9,1472.9 L715.2,1471.9 L715.5,1470.6 L715.7,1469.4 L716.1,1468.3 L716.4,1467.2 L716.6,1466.2 L717.0,1464.7 L717.2,1463.1 L717.4,1462.3 L717.8,1461.3 L718.0,1459.8 L718.3,1458.7 L718.5,1457.3 L718.8,1456.2 L719.2,1454.8 L719.3,1454.1 L719.6,1452.2 L719.8,1451.6 L720.1,1450.1 L720.3,1449.3 L720.5,1448.2 L720.8,1446.8 L721.1,1445.3 L721.5,1444.3 L721.6,1443.2 L721.8,1441.7 L722.1,1440.6 L722.5,1439.2 L722.7,1438.0 L722.9,1437.1 L723.2,1435.9 L723.5,1434.9 L723.7,1433.7 L723.9,1432.3 L724.1,1431.3 L724.5,1429.9 L724.7,1428.7 L725.1,1427.6 L725.3,1426.4 L725.6,1424.9 L726.0,1423.8 L726.3,1422.4 L726.7,1421.5 L726.8,1420.3 L727.3,1419.0 L727.5,1417.9 L727.8,1416.1 L727.9,1415.0 L728.4,1414.7 L728.5,1412.9 L728.9,1411.6 L729.2,1410.6 L729.4,1409.6 L729.7,1408.2 L730.0,1406.6 L730.3,1405.4 L730.5,1404.4 L730.7,1403.2 L730.9,1402.1 L731.3,1400.7 L731.5,1399.7 L731.8,1398.0 L732.1,1397.3 L732.4,1396.5 L732.7,1394.9 L732.9,1393.5 L733.1,1392.2 L733.3,1391.0 L733.7,1390.3 L733.7,1388.8 L734.0,1387.3 L734.4,1386.3 L734.8,1385.2 L734.8,1383.7 L735.2,1382.6 L735.4,1381.3 L735.7,1380.5 L736.0,1379.1 L736.2,1377.9 L736.4,1376.9 L736.6,1375.5 L736.9,1374.4 L737.1,1373.2 L737.4,1371.9 L737.7,1371.2 L737.9,1369.9 L738.2,1369.0 L738.5,1367.4 L738.6,1366.3 L739.0,1364.6 L739.2,1363.9 L739.5,1362.4 L739.8,1361.4 L739.9,1359.7 L740.3,1358.9 L740.5,1357.8 L740.7,1356.5 L741.0,1355.1 L741.2,1353.9 L741.5,1353.1 L741.7,1351.7 L742.0,1350.1 L742.3,1348.8 L742.5,1347.9 L742.7,1346.9 L742.9,1345.9 L743.1,1344.6 L743.5,1343.2 L743.6,1341.6 L743.8,1340.7 L744.2,1339.6 L744.5,1338.4 L744.7,1337.0 L745.0,1336.0 L745.1,1334.8 L745.4,1333.4 L745.8,1332.6 L746.1,1330.9 L746.3,1329.5 L746.5,1328.4 L746.8,1327.5 L747.0,1326.2 L747.3,1324.6 L747.5,1323.2 L747.7,1322.3 L747.9,1321.2 L748.1,1320.1 L748.3,1318.5 L748.5,1317.0 L748.7,1316.1 L748.8,1315.2 L749.0,1313.6 L749.2,1312.3 L749.5,1310.9 L749.6,1310.0 L750.0,1308.6 L750.3,1307.7 L750.6,1306.3 L750.9,1305.1 L751.3,1303.8 L751.7,1302.5 L752.0,1300.9 L752.3,1299.7 L752.9,1298.8 L753.2,1297.5 L753.7,1296.4 L754.2,1295.2 L754.4,1293.6 L754.9,1293.0 L755.3,1291.8 L755.9,1290.3 L756.3,1289.1 L756.7,1288.1 L757.3,1286.8 L757.7,1286.0 L758.1,1284.6 L758.6,1283.7 L759.2,1282.5 L759.8,1281.3 L760.3,1279.9 L760.8,1278.9 L761.3,1277.5 L762.0,1276.8 L762.6,1275.3 L763.2,1274.3 L763.8,1273.1 L764.4,1272.0 L765.1,1270.9 L765.5,1269.9 L766.3,1268.3 L766.9,1267.5 L767.5,1266.1 L768.3,1265.4 L769.1,1264.3 L769.7,1263.1 L770.5,1262.2 L771.3,1261.1 L772.2,1260.3 L773.3,1259.6 L774.4,1259.0 L775.5,1258.4 L776.6,1257.4 L777.9,1257.1 L779.1,1256.1 L780.2,1256.0 L781.6,1255.2 L782.7,1255.2 L784.0,1255.2 L785.2,1254.4 L786.4,1254.2 L787.6,1254.3 L788.9,1253.4 L790.1,1253.8 L791.3,1253.8 L792.7,1253.4 L793.9,1253.4 L795.2,1252.9 L796.3,1253.1 L797.7,1252.4 L799.0,1252.1 L800.1,1252.2 L801.3,1252.5 L802.8,1252.2 L803.9,1252.1 L805.0,1252.2 L806.2,1252.5 L807.5,1251.8 L808.8,1252.0 L810.0,1252.1 L811.4,1251.9 L812.5,1252.2 L813.8,1251.9 L815.0,1251.9 L816.2,1252.2 L817.5,1252.4 L818.9,1251.6 L819.9,1252.2 L821.4,1252.2 L822.5,1252.1 L823.8,1252.6 L825.0,1252.5 L826.1,1252.7 L827.1,1252.2 L828.0,1252.5 L828.9,1252.5" fill="none" stroke="#2828ff" stroke-width="4.4" stroke-linejoin="round" stroke-linecap="round" />
<path d="M162.8,1716.0 L163.9,1715.4 L164.7,1715.5 L165.9,1717.0 L167.1,1716.6 L168.2,1716.8 L169.2,1717.1 L170.4,1716.8 L172.0,1716.8 L173.0,1717.8 L174.3,1716.0 L175.6,1715.6 L176.7,1715.4 L178.3,1715.2 L179.2,1715.4 L180.7,1714.8 L181.4,1716.3 L182.4,1714.9 L183.9,1716.6 L184.8,1714.2 L186.2,1715.5 L187.3,1716.3 L188.6,1716.3 L189.7,1716.9 L191.3,1716.2 L192.2,1716.5 L193.6,1715.5 L194.7,1716.6 L196.0,1715.8 L197.3,1716.0 L198.4,1715.1 L199.9,1716.4 L200.7,1717.0 L202.1,1716.7 L203.4,1718.2 L204.5,1718.1 L206.0,1716.9 L206.7,1718.1 L207.7,1717.7 L209.4,1718.5 L210.5,1717.0 L212.1,1718.4 L213.0,1718.4 L213.8,1717.4 L215.1,1719.3 L216.4,1718.1 L217.8,1718.5 L219.1,1718.4 L220.1,1716.6 L221.5,1718.5 L222.9,1718.4 L223.9,1718.9 L225.0,1718.3 L226.4,1719.3 L228.1,1719.9 L229.3,1719.9 L230.4,1719.8 L231.6,1719.1 L232.7,1720.0 L234.3,1721.4 L235.6,1722.2 L236.6,1722.3 L238.3,1722.0 L239.4,1722.3 L240.2,1722.8 L241.5,1723.2 L242.8,1723.7 L243.7,1725.1 L245.5,1724.3 L246.2,1725.0 L247.6,1725.8 L248.7,1725.0 L249.6,1727.4 L251.0,1726.4 L252.0,1727.0 L253.2,1728.9 L254.5,1729.4 L255.8,1728.4 L256.9,1730.9 L258.2,1729.5 L259.8,1730.5 L260.8,1731.7 L261.8,1731.5 L263.2,1730.8 L264.5,1732.5 L265.9,1731.1 L267.0,1733.2 L268.6,1732.0 L270.1,1732.6 L270.8,1733.0 L272.4,1734.2 L273.7,1733.3 L274.7,1733.0 L276.0,1733.7 L277.4,1733.7 L278.5,1734.2 L279.7,1734.3 L281.0,1734.7 L282.5,1735.7 L283.4,1736.2 L284.9,1737.0 L286.1,1736.3 L287.3,1736.7 L288.7,1737.0 L289.8,1737.5 L291.1,1737.5 L292.1,1737.7 L293.3,1737.4 L294.7,1739.3 L296.1,1738.5 L297.1,1739.4 L298.5,1740.0 L299.4,1739.9 L300.5,1740.2 L301.6,1740.7 L302.5,1740.8 L304.1,1741.5 L305.2,1741.9 L306.2,1743.4 L307.2,1743.4 L309.0,1744.0 L309.6,1744.7 L310.9,1745.6 L312.3,1746.7 L313.2,1746.6 L314.3,1746.5 L315.6,1748.2 L316.9,1748.6 L318.3,1748.3 L319.7,1748.2 L320.4,1748.4 L321.9,1748.6 L322.8,1749.0 L324.4,1748.8 L325.4,1749.5 L326.8,1749.6 L327.7,1749.4 L329.1,1748.4 L330.5,1749.7 L331.4,1751.1 L332.7,1749.6 L333.9,1750.5 L335.3,1750.2 L336.3,1749.9 L337.6,1749.8 L338.9,1750.1 L340.2,1750.0 L341.3,1750.4 L342.6,1751.2 L343.8,1750.8 L345.1,1750.2 L346.5,1751.3 L347.2,1751.8 L348.9,1751.3 L350.2,1752.2 L351.0,1752.7 L352.3,1752.0 L353.2,1753.1 L354.7,1753.6 L356.1,1753.1 L357.2,1754.4 L358.8,1753.9 L359.8,1752.9 L361.1,1754.3 L362.5,1753.1 L363.6,1753.3 L364.9,1753.2 L366.5,1753.7 L367.7,1752.9 L369.1,1754.1 L370.4,1752.4 L371.9,1753.4 L373.6,1753.0 L374.3,1753.2 L375.7,1753.2 L376.7,1752.5 L378.2,1753.4 L379.4,1754.9 L381.0,1754.4 L382.0,1753.9 L383.3,1753.7 L384.8,1754.1 L386.0,1753.9 L386.9,1753.3 L388.5,1753.5 L389.5,1753.8 L390.7,1753.2 L392.2,1753.2 L393.5,1753.6 L394.6,1753.7 L395.3,1752.9 L396.6,1752.5 L398.0,1753.3 L399.2,1753.4 L400.3,1752.3 L401.7,1752.7 L402.8,1751.7 L404.0,1751.2 L405.5,1752.3 L406.6,1751.9 L407.6,1751.5 L409.1,1751.2 L410.1,1752.4 L411.7,1751.6 L412.7,1751.4 L414.1,1751.0 L415.1,1751.4 L416.6,1750.9 L417.6,1750.6 L418.7,1750.4 L420.1,1751.1 L421.2,1750.1 L422.5,1750.5 L423.9,1749.4 L425.1,1749.4 L426.4,1749.2 L427.3,1749.2 L428.7,1748.8 L430.0,1749.2 L431.3,1749.0 L432.6,1748.2 L433.8,1748.3 L434.7,1748.3 L436.2,1747.4 L437.5,1747.6 L438.9,1747.5 L440.0,1747.3 L441.4,1746.4 L442.6,1746.8 L443.9,1746.4 L445.1,1746.4 L446.7,1745.7 L447.3,1746.0 L448.7,1744.0 L449.7,1744.7 L451.5,1744.7 L452.5,1744.6 L453.8,1743.2 L455.0,1743.5 L456.2,1743.4 L457.1,1743.9 L458.6,1743.2 L459.8,1742.9 L461.1,1741.8 L462.4,1743.0 L463.4,1741.4 L464.7,1742.0 L466.1,1742.4 L467.5,1742.7 L468.5,1742.4 L469.3,1741.9 L470.8,1742.3 L472.3,1742.6 L473.6,1742.2 L474.7,1742.5 L475.9,1742.9 L477.1,1742.8 L478.4,1743.3 L479.5,1742.9 L481.1,1742.9 L481.9,1742.9 L482.8,1742.3 L484.1,1741.7 L485.2,1741.3 L486.2,1739.9 L487.1,1739.4 L488.3,1739.3 L489.0,1738.9 L490.2,1739.1 L491.5,1737.2 L492.7,1739.0 L494.0,1738.1 L495.3,1738.8 L496.7,1739.0 L497.8,1738.0 L499.0,1738.6 L500.2,1738.5 L501.3,1738.4 L502.7,1738.0 L503.9,1737.4 L505.2,1737.7 L506.4,1737.2 L507.5,1736.9 L508.9,1735.7 L510.3,1735.6 L511.4,1735.0 L512.3,1735.8 L513.6,1733.9 L515.0,1733.8 L516.2,1735.3 L517.4,1734.1 L518.8,1733.7 L519.9,1734.0 L521.2,1733.0 L522.4,1731.7 L523.7,1732.1 L525.0,1732.1 L526.4,1730.5 L527.3,1731.0 L528.4,1731.4 L529.8,1731.1 L530.8,1730.4 L532.3,1730.6 L533.4,1730.7 L534.7,1730.1 L536.3,1730.2 L537.3,1730.8 L538.6,1730.1 L539.5,1730.6 L541.0,1728.9 L541.7,1729.8 L543.3,1729.8 L544.7,1729.3 L546.3,1730.1 L547.3,1729.6 L548.0,1729.4 L549.4,1729.4 L550.7,1729.3 L551.8,1728.6 L553.2,1728.1 L554.3,1728.6 L555.9,1727.9 L556.9,1727.0 L557.9,1727.5 L559.2,1726.4 L560.4,1726.7 L561.7,1726.8 L562.8,1725.8 L563.9,1725.2 L565.0,1724.4 L566.1,1724.4 L567.4,1724.9 L568.4,1724.5 L569.9,1724.8 L571.0,1724.2 L572.1,1724.3 L573.1,1723.7 L574.2,1724.2 L575.9,1721.8 L576.9,1721.9 L577.9,1722.1 L579.2,1722.5 L580.5,1721.0 L581.8,1721.4 L583.2,1721.1 L584.1,1720.0 L585.5,1719.6 L586.9,1719.5 L588.0,1719.1 L589.2,1718.1 L590.8,1718.2 L591.5,1717.2 L592.8,1717.1 L594.1,1718.1 L595.3,1716.9 L596.6,1716.7 L597.6,1716.5 L598.7,1716.3 L599.8,1714.8 L601.4,1715.1 L602.4,1715.3 L603.6,1714.2 L604.9,1713.9 L606.3,1713.8 L607.4,1714.1 L608.3,1712.3 L609.9,1713.3 L610.9,1711.7 L612.2,1711.7 L613.3,1709.8 L614.3,1709.7 L615.2,1709.9 L616.6,1708.8 L617.6,1709.3 L618.8,1707.9 L619.9,1707.5 L620.7,1706.7 L622.1,1706.8 L622.9,1705.5 L624.1,1704.5 L625.5,1705.0 L626.5,1702.9 L627.2,1704.3 L628.1,1701.5 L629.4,1702.5 L630.4,1700.3 L631.4,1700.2 L632.4,1699.4 L633.4,1699.0 L634.5,1698.1 L635.3,1695.6 L636.4,1695.0 L637.6,1694.3 L638.0,1693.1 L639.3,1693.4 L640.3,1692.5 L641.1,1691.9 L642.0,1689.8 L643.2,1690.1 L643.9,1688.8 L645.1,1688.5 L645.7,1687.7 L646.3,1686.3 L647.7,1685.3 L648.6,1683.6 L649.4,1683.9 L650.1,1682.8 L651.1,1680.6 L651.9,1681.3 L652.6,1680.1 L653.7,1678.4 L654.5,1678.7 L655.4,1676.7 L656.3,1676.5 L657.0,1676.2 L657.9,1674.7 L658.7,1673.9 L659.5,1672.6 L659.8,1672.5 L661.0,1671.0 L661.5,1669.6 L662.2,1668.1 L663.0,1667.7 L663.4,1666.7 L664.1,1665.5 L664.9,1665.9 L665.3,1663.6 L666.2,1662.6 L667.0,1661.0 L667.3,1660.2 L667.8,1659.8 L668.5,1658.4 L669.6,1656.7 L670.1,1656.0 L671.1,1655.2 L671.3,1654.6 L672.4,1651.9 L672.6,1653.4 L673.7,1649.8 L674.6,1650.7 L674.7,1649.6 L675.9,1647.8 L676.3,1646.9 L676.9,1645.7 L677.7,1644.3 L678.4,1644.0 L679.1,1642.6 L679.9,1640.6 L680.3,1640.2 L681.0,1638.6 L681.5,1637.9 L682.2,1637.3 L682.8,1635.8 L683.4,1634.9 L683.9,1633.9 L684.4,1632.7 L685.0,1631.5 L685.6,1630.2 L686.0,1629.2 L686.5,1627.9 L687.0,1627.1 L687.4,1625.5 L688.0,1624.9 L688.5,1623.8 L689.0,1622.3 L689.4,1621.3 L690.1,1620.2 L690.4,1619.2 L690.9,1617.7 L691.6,1616.9 L692.0,1615.8 L692.4,1614.6 L692.9,1613.6 L693.3,1611.9 L693.7,1611.3 L694.2,1609.5 L694.8,1608.6 L695.0,1607.7 L695.5,1606.4 L695.8,1605.4 L696.2,1604.0 L696.7,1602.8 L697.0,1601.6 L697.6,1600.7 L697.9,1599.4 L698.4,1598.4 L698.8,1597.0 L699.1,1595.9 L699.6,1594.6 L700.0,1593.8 L700.4,1592.1 L700.9,1590.9 L701.2,1590.1 L701.6,1588.9 L702.1,1587.5 L702.5,1586.4 L702.9,1585.3 L703.3,1583.8 L703.7,1582.9 L704.1,1581.5 L704.5,1580.5 L704.9,1579.4 L705.3,1578.0 L705.7,1577.0 L706.2,1575.9 L706.7,1574.8 L707.0,1573.6 L707.3,1572.5 L708.0,1571.1 L708.4,1570.2 L708.8,1568.9 L709.3,1567.7 L709.8,1566.7 L710.3,1565.4 L710.8,1564.3 L711.2,1563.5 L711.6,1562.7 L712.1,1561.1 L712.5,1559.9 L712.7,1558.8 L713.1,1557.4 L713.5,1556.4 L713.7,1554.8 L713.8,1553.6 L714.2,1552.6 L714.4,1551.3 L714.8,1549.9 L715.0,1548.7 L715.4,1547.3 L715.6,1546.6 L715.9,1545.5 L716.3,1544.1 L716.5,1542.8 L716.9,1541.8 L717.2,1540.5 L717.6,1539.7 L717.9,1538.2 L718.3,1537.4 L718.4,1536.3 L718.7,1534.7 L719.0,1533.8 L719.4,1532.6 L719.7,1531.2 L720.0,1530.2 L720.3,1529.2 L720.7,1527.8 L721.0,1526.6 L721.3,1525.7 L721.6,1524.5 L721.8,1523.2 L722.2,1522.3 L722.6,1520.8 L722.8,1519.8 L723.1,1518.5 L723.4,1517.5 L723.8,1516.3 L724.1,1515.2 L724.3,1513.8 L724.7,1512.9 L724.9,1511.6 L725.3,1510.7 L725.8,1509.2 L726.1,1507.9 L726.4,1507.0 L726.7,1505.7 L726.9,1504.8 L727.3,1503.4 L727.6,1502.6 L727.9,1501.4 L728.3,1499.7 L728.6,1498.9 L728.8,1497.3 L729.3,1496.9 L729.4,1495.4 L729.7,1494.2 L729.9,1492.6 L730.3,1492.0 L730.6,1490.7 L730.8,1489.5 L731.1,1488.3 L731.4,1487.2 L731.5,1486.0 L731.8,1484.5 L732.2,1483.1 L732.4,1482.4 L732.7,1481.0 L732.9,1480.0 L733.3,1478.7 L733.4,1477.3 L733.8,1476.3 L734.1,1475.1 L734.4,1473.8 L734.5,1473.0 L734.8,1471.5 L735.1,1470.2 L735.4,1469.0 L735.7,1468.0 L736.0,1466.9 L736.3,1465.4 L736.5,1464.5 L736.7,1463.3 L737.1,1462.3 L737.4,1460.9 L737.6,1460.2 L737.8,1458.4 L738.1,1457.3 L738.3,1456.3 L738.5,1454.8 L738.8,1453.6 L739.0,1452.7 L739.3,1451.3 L739.5,1450.1 L739.7,1449.2 L740.1,1447.9 L740.3,1446.6 L740.5,1445.5 L740.8,1444.2 L741.0,1443.2 L741.3,1441.7 L741.5,1440.7 L741.8,1439.2 L741.9,1438.1 L742.2,1436.9 L742.5,1435.7 L742.8,1434.8 L743.0,1433.6 L743.3,1432.4 L743.5,1431.3 L743.8,1430.0 L744.1,1428.7 L744.3,1427.8 L744.5,1426.3 L745.0,1424.9 L745.1,1423.6 L745.4,1422.6 L745.7,1421.3 L745.9,1420.1 L746.2,1418.5 L746.4,1417.3 L746.8,1416.1 L747.0,1415.0 L747.2,1413.8 L747.5,1412.6 L747.7,1411.6 L747.9,1410.5 L748.1,1408.9 L748.5,1408.2 L748.7,1406.6 L749.0,1405.8 L749.1,1404.5 L749.4,1403.2 L749.7,1402.2 L749.9,1400.8 L750.0,1399.4 L750.4,1398.2 L750.6,1397.2 L750.9,1396.0 L751.2,1394.9 L751.4,1393.4 L751.7,1392.2 L752.0,1391.1 L752.2,1390.0 L752.5,1388.9 L752.8,1387.5 L753.0,1386.8 L753.4,1385.3 L753.7,1384.3 L753.9,1382.8 L754.2,1381.4 L754.4,1380.8 L754.8,1379.0 L755.0,1377.9 L755.3,1376.8 L755.5,1375.3 L755.9,1374.4 L756.1,1373.2 L756.4,1372.0 L756.7,1371.0 L757.1,1369.7 L757.3,1368.6 L757.6,1367.3 L757.9,1365.9 L758.2,1364.9 L758.5,1363.6 L758.7,1362.5 L759.0,1361.0 L759.4,1360.2 L759.5,1359.1 L759.7,1357.7 L760.1,1356.4 L760.4,1355.3 L760.7,1353.8 L760.9,1353.0 L761.2,1351.3 L761.3,1350.4 L761.7,1349.0 L761.9,1348.0 L762.1,1346.9 L762.5,1345.7 L762.7,1344.1 L763.1,1343.3 L763.3,1341.8 L763.7,1340.9 L763.9,1339.4 L764.3,1338.4 L764.5,1337.3 L764.8,1335.8 L765.1,1334.7 L765.3,1333.1 L765.7,1331.8 L765.9,1330.6 L766.3,1329.9 L766.5,1328.7 L766.9,1327.5 L767.0,1326.3 L767.6,1324.6 L767.6,1323.8 L768.1,1322.3 L768.4,1320.8 L768.6,1319.9 L769.0,1318.8 L769.4,1317.3 L769.6,1316.4 L769.9,1315.0 L770.2,1313.7 L770.7,1312.5 L770.9,1311.1 L771.3,1309.9 L771.6,1308.7 L772.2,1307.2 L772.5,1306.4 L773.1,1305.3 L773.5,1303.7 L773.9,1302.7 L774.4,1301.3 L775.0,1300.0 L775.3,1299.1 L775.8,1297.7 L776.3,1297.0 L776.7,1295.4 L777.2,1294.1 L777.8,1292.9 L778.2,1291.6 L778.6,1290.5 L779.1,1289.6 L779.6,1288.4 L780.1,1287.0 L780.6,1286.1 L781.1,1284.6 L781.5,1283.5 L782.1,1282.5 L782.5,1281.7 L783.0,1280.5 L783.5,1279.5 L784.1,1278.2 L784.5,1277.2 L785.1,1275.8 L785.7,1274.4 L786.1,1273.5 L786.7,1272.5 L787.2,1270.9 L787.9,1269.9 L788.5,1269.0 L789.0,1267.8 L789.8,1266.8 L790.5,1265.9 L791.3,1264.5 L792.1,1264.1 L793.1,1263.4 L794.1,1262.3 L795.0,1261.0 L796.0,1260.5 L797.1,1259.5 L798.4,1259.2 L799.4,1258.5 L800.8,1258.1 L802.0,1257.5 L803.2,1256.8 L804.6,1256.6 L805.9,1255.8 L807.2,1255.8 L808.5,1255.4 L809.9,1255.0 L811.1,1255.1 L812.5,1255.0 L813.7,1254.8 L814.9,1254.8 L816.3,1254.8 L817.5,1254.9 L818.8,1254.7 L819.9,1254.9 L821.2,1254.7 L822.5,1254.8 L823.8,1254.5 L825.0,1254.9 L826.2,1254.6 L827.5,1254.3 L828.7,1254.6 L830.0,1254.0 L831.3,1254.4 L832.5,1254.3 L833.8,1254.5 L835.0,1254.3 L836.3,1253.8 L837.7,1253.8 L838.9,1253.5 L840.2,1254.0 L841.4,1253.5 L842.7,1253.3 L843.9,1253.4 L845.2,1252.9 L846.3,1253.2 L847.6,1253.2 L848.9,1253.0 L850.1,1252.4 L851.4,1253.0 L852.5,1252.6 L853.7,1252.3 L854.9,1252.8 L856.0,1252.4 L857.4,1252.4 L858.5,1252.4 L859.6,1252.6 L861.0,1252.2 L862.0,1252.6 L863.2,1252.2 L864.4,1251.8 L865.7,1251.6 L866.8,1252.0 L868.1,1251.7 L869.4,1252.0 L870.5,1252.0 L871.7,1251.8 L872.9,1251.6 L874.1,1252.0 L875.3,1251.9 L876.4,1251.3 L877.7,1251.5 L878.9,1251.5 L880.2,1251.3 L881.4,1251.4 L882.6,1250.7 L883.7,1251.2 L884.9,1251.3 L886.1,1251.0 L887.3,1250.9 L888.6,1251.1 L889.8,1250.9 L891.0,1250.4 L892.2,1250.5 L893.4,1250.5 L894.6,1250.3 L895.8,1250.4 L897.1,1250.3 L898.2,1249.9 L899.5,1250.1 L900.5,1250.1 L901.9,1249.8 L903.2,1249.7 L904.3,1249.7 L905.5,1249.6 L906.8,1249.3 L908.1,1249.1 L909.3,1249.3 L910.5,1249.1 L911.8,1248.8 L913.1,1248.5 L914.2,1248.3 L915.4,1248.0 L916.7,1248.1 L918.0,1247.9 L919.1,1247.6 L920.3,1247.2 L921.5,1247.2 L922.6,1246.8 L923.8,1246.3 L924.9,1246.2 L925.9,1245.7 L926.7,1245.9 L927.5,1245.5" fill="none" stroke="#ff0000" stroke-width="5.0" stroke-linejoin="round" stroke-linecap="round" />
<path d="M162.4,1545.8 L176.2,1537.3 L191.0,1528.9 L204.7,1520.4 L218.5,1512.0 L233.3,1504.1 L248.1,1497.1 L261.9,1489.4 L275.6,1481.7 L290.4,1474.3 L304.2,1468.9 L318.0,1463.3 L332.8,1457.7 L347.1,1454.2 L366.2,1449.6 L387.3,1446.0 L408.5,1442.2 L429.7,1439.6 L450.8,1435.8 L472.0,1431.6 L493.1,1425.7 L514.3,1416.8 L529.1,1408.3 L537.1,1403.5 L551.9,1394.0 L566.7,1383.4 L579.4,1370.7 L593.2,1357.0 L605.9,1343.2 L617.5,1328.4 L627.1,1314.7 L636.6,1299.8 L647.2,1286.1 L659.9,1273.4 L673.6,1261.7 L687.4,1255.4 L702.2,1252.2 L719.1,1251.2 L735.0,1251.2 L780.0,1251.0 L830.0,1250.0 L880.0,1248.8 L903.0,1248.3" fill="none" stroke="#000" stroke-width="4.0" stroke-linejoin="round" stroke-linecap="round" stroke-dasharray="0.1 7.6"/>
</svg></body></html>
